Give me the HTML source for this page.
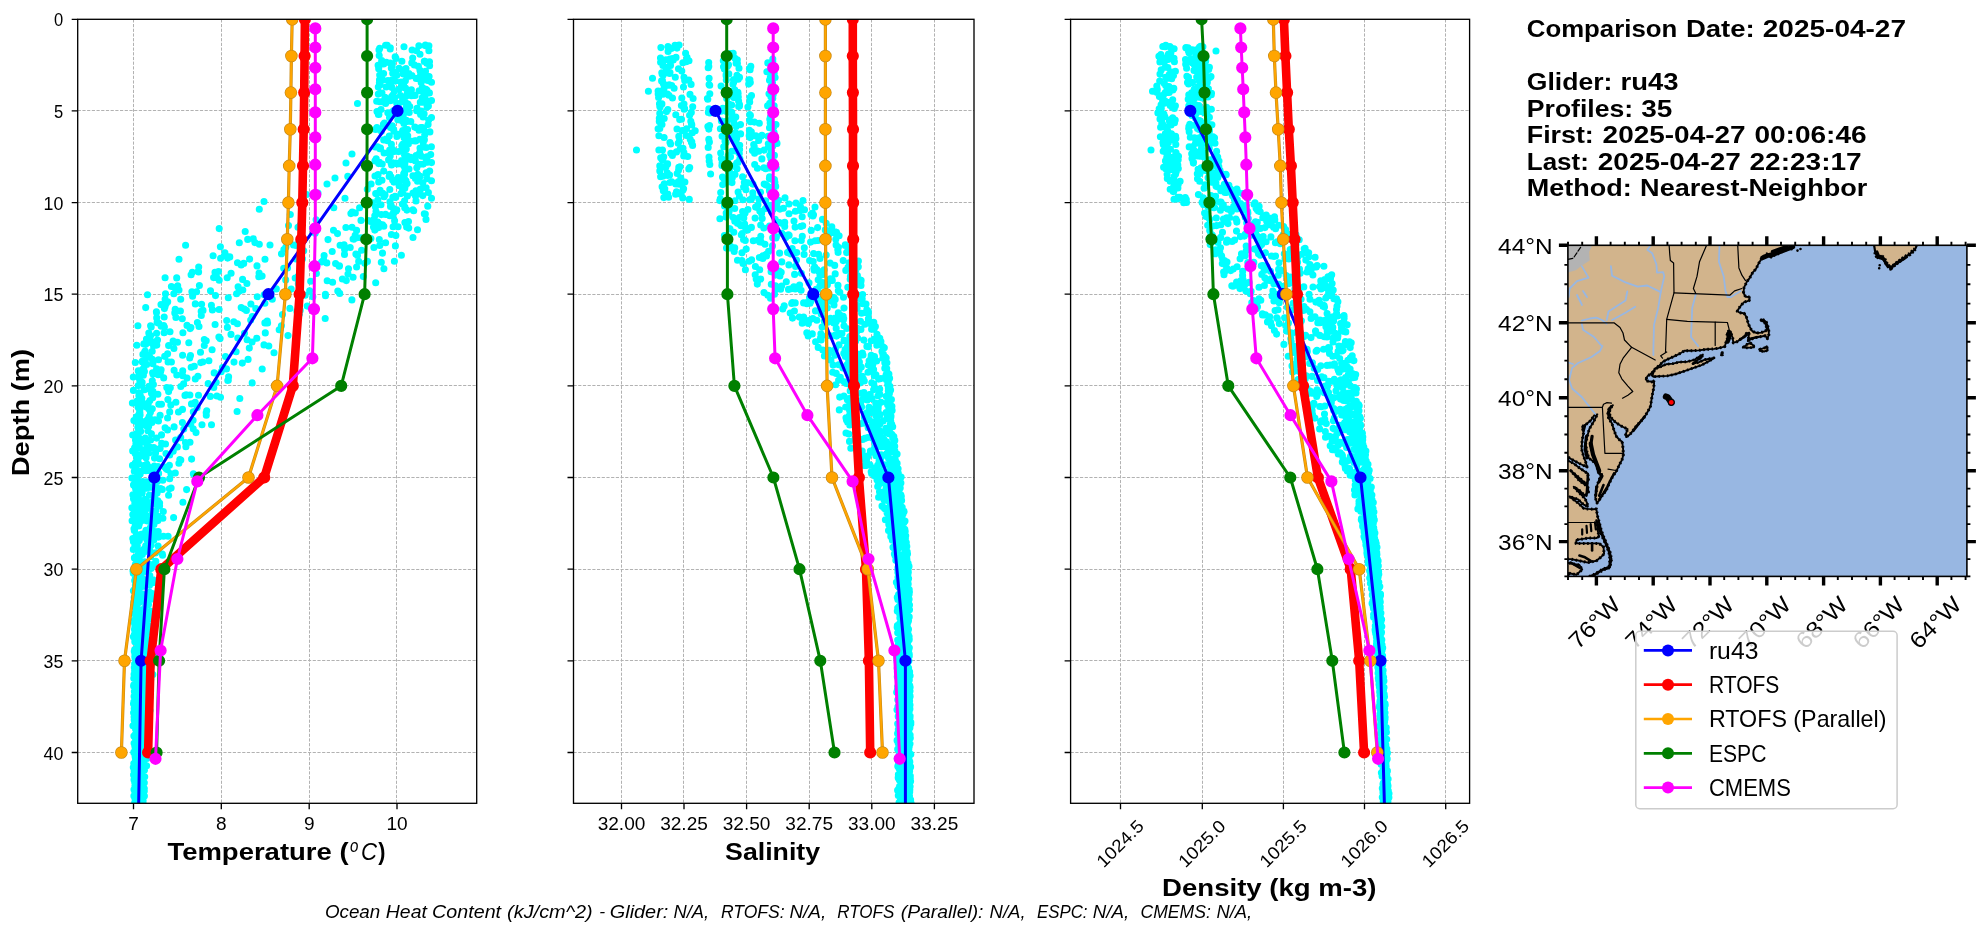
<!DOCTYPE html>
<html><head><meta charset="utf-8"><title>Glider comparison</title>
<style>html,body{margin:0;padding:0;background:#fff}svg{will-change:transform}body{width:1979px;height:934px;overflow:hidden}</style>
</head><body>
<svg width="1979" height="934" viewBox="0 0 1979 934" font-family='"Liberation Sans", sans-serif' style="display:block">
<rect width="1979" height="934" fill="#fff"/>
<defs>
<clipPath id="c0"><rect x="77.7" y="19.3" width="399" height="784"/></clipPath>
<clipPath id="c1"><rect x="573.5" y="19.3" width="400.5" height="784"/></clipPath>
<clipPath id="c2"><rect x="1070.6" y="19.3" width="399" height="784"/></clipPath>
</defs>
<path d="M133.5 19.3V803.3M221.5 19.3V803.3M309.5 19.3V803.3M396.5 19.3V803.3M77.7 110.5H476.7M77.7 202.5H476.7M77.7 294.5H476.7M77.7 385.5H476.7M77.7 477.5H476.7M77.7 569.5H476.7M77.7 660.5H476.7M77.7 752.5H476.7" stroke="#b2b2b2" stroke-width="1" stroke-dasharray="3.2 1.5" fill="none"/>
<g clip-path="url(#c0)">
<path d="M385.6 45.2h0M383.7 64h0M382.9 80h0M382 93.1h0M381 109.6h0M383.4 124.4h0M383.7 139.9h0M376.2 158.7h0M347.8 176.4h0M306.6 194.6h0M259.3 209.3h0M219.2 228.6h0M185.6 245.2h0M179 259.3h0M165.1 277.7h0M147.5 294.8h0M145.7 307.6h0M137.9 325.7h0M136.8 345.2h0M135.3 362.5h0M133.3 377.1h0M133.4 390.4h0M132.4 403.1h0M133.9 420.6h0M132.7 435.1h0M132.7 450.9h0M132.5 465.4h0M131.9 478.1h0M132.9 494.7h0M131.9 507.8h0M132.1 520.8h0M132.8 538.5h0M134.4 557.9h0M133.3 573.2h0M134.4 589.6h0M133.8 602.2h0M134.5 620.1h0M134.4 634.6h0M134.3 651.4h0M134.6 670.8h0M133.9 684.9h0M134.1 696.4h0M133.6 712.7h0M133 725.7h0M134.1 743.3h0M133.8 763.5h0M133.6 774.9h0M134.8 791.7h0M395.2 56.9h0M396.8 75.3h0M399 89.3h0M398.2 104.7h0M397.8 119.8h0M396.9 136.4h0M394.3 151.5h0M397.5 164h0M371.1 184h0M345 198.3h0M290.3 214.5h0M245.2 231.5h0M220.4 246.7h0M176.7 277.9h0M165.5 293.7h0M156.4 311.8h0M150.6 325.7h0M143.9 343.9h0M142.4 362.1h0M139.4 378.7h0M139.1 393.7h0M138.7 407.9h0M138.9 424.3h0M137.2 442.6h0M137.8 454.8h0M137.6 472.5h0M136.8 485h0M137 497.1h0M136.4 515h0M136.3 534.3h0M137.3 545.8h0M137.5 561.4h0M137.4 574.9h0M137.4 592.3h0M137.7 610h0M138.8 628.8h0M137.4 647.1h0M138.1 659h0M137.1 678.4h0M136.9 692.8h0M138.2 709.5h0M137.1 725h0M137.7 742.5h0M137.1 758.7h0M137.1 773.7h0M136.6 788.3h0M137.1 803.1h0M424.3 61.4h0M426.4 76.2h0M426.9 90h0M427.1 107.1h0M428.1 124.5h0M427.4 156.6h0M426.1 172.9h0M404.8 188.2h0M359.6 207.7h0M300.3 225.1h0M239.3 242.7h0M213.1 255.7h0M198.6 272h0M177.6 288.2h0M167.7 301.7h0M164.2 317h0M156.6 333.2h0M153.4 345.8h0M152.3 359.2h0M152.6 372.8h0M151 388.2h0M149.9 400.6h0M149.2 416.5h0M147.9 430.8h0M146.8 446.6h0M146.8 464h0M146.6 481.8h0M146.1 499.2h0M145.1 514h0M145.4 532.2h0M147.3 546h0M145.9 562.5h0M146.7 580.2h0M145.6 595h0M144.6 608h0M145 624.5h0M144.8 640h0M146.1 653.7h0M144.6 666.7h0M145.4 681.6h0M144.9 698.5h0M144.2 713.6h0M144 727.5h0M143.8 744.8h0M143.9 762.1h0M143.2 776h0M142.8 788.7h0M141.7 805.3h0M412.7 58h0M411.9 75.6h0M411.4 89.7h0M409.7 106.6h0M410.8 121.5h0M410.7 141h0M410.5 157.3h0M409 169h0M399.1 185.8h0M371.9 202.6h0M316.1 219.7h0M247.7 239.4h0M224.9 252.9h0M198.7 267h0M177.7 285.9h0M165.1 299.2h0M156.5 312.6h0M151.2 327.1h0M145.7 344.3h0M142.2 361.4h0M141 375.8h0M140.3 395.5h0M139.8 410.5h0M138.1 427.5h0M136.5 443.7h0M138.2 456.8h0M137.6 475.4h0M137.6 489.4h0M137.6 506.3h0M137.4 519.5h0M138.1 535.1h0M139 551.1h0M137.6 569.5h0M138.2 584.4h0M138.1 601.5h0M138.9 618.7h0M137.8 636h0M138.2 653.5h0M138.6 670.2h0M138.1 704.1h0M138.2 722.1h0M138.5 737.9h0M138.4 750.9h0M138.3 764.9h0M137.5 782.3h0M137.4 798.9h0M383.6 73.6h0M386.2 87h0M385.6 103.5h0M384.4 123h0M385.9 139h0M384.1 153h0M383.7 171.1h0M367.3 189.3h0M333.8 207.8h0M288.5 225.6h0M253.2 238.8h0M224.4 255.5h0M192.3 272.3h0M171.4 286.5h0M161 304.6h0M156.7 317.9h0M148.8 333.1h0M144.7 351.7h0M143.8 368.3h0M142.1 382.7h0M139.9 412.7h0M140.6 431.4h0M139.4 446.6h0M138.8 463.9h0M138.8 482.4h0M138.4 497.4h0M140.1 511.5h0M139.3 523.9h0M139.3 540.6h0M139.2 558.8h0M139.5 574h0M139.4 588.2h0M140.2 602h0M139.2 620.3h0M139.3 633.6h0M140 648.9h0M139.7 664.3h0M139.7 677.3h0M138.5 691.5h0M139.1 708.8h0M139.1 721.6h0M139.7 740.9h0M138 754.9h0M138.4 771.5h0M137.7 791.4h0M137.7 804.5h0M392.7 73.2h0M392 87.6h0M390.4 100.7h0M389.5 117.6h0M389.3 136.1h0M389.7 150.1h0M391.2 163.5h0M391 176.8h0M376.7 194h0M352.2 212h0M298 227.2h0M254.9 242.6h0M220.6 258.3h0M191.1 274.8h0M173.8 293.7h0M164.4 308.6h0M157.1 322.6h0M150.6 335.6h0M145.1 351h0M144.2 363.7h0M142.1 382.3h0M141.8 398.3h0M139.8 415.2h0M138.9 431.1h0M139.1 447.7h0M138 461.9h0M137.9 476h0M137.4 494.1h0M137 510.7h0M137.3 524.8h0M138 541.4h0M138.2 555h0M138 569.6h0M138.3 583h0M138 598.9h0M138.4 613.3h0M138.8 627.3h0M137.8 644h0M138.2 675.2h0M138.8 687.2h0M137.4 702.9h0M137 720.4h0M137.7 736.1h0M138.8 750.6h0M137.1 764.8h0M138 778.5h0M136.8 808.2h0M391.3 68h0M390.5 85.2h0M390.8 98.2h0M389.9 112.9h0M390.5 127.6h0M388.6 159.9h0M389.2 176.5h0M385 194.9h0M355.3 213h0M312.8 227.8h0M270 245h0M229.8 256.9h0M215 272.3h0M179 290.1h0M165 306.7h0M158.8 323.2h0M152.2 341.9h0M145.1 359h0M143.4 375.3h0M144.5 389.8h0M142.3 405.9h0M140.6 421.5h0M139.5 440.2h0M139.9 456.6h0M139.2 473.8h0M138.3 490.2h0M138.5 507.6h0M138.7 536.9h0M139.1 550.5h0M138.8 564.6h0M138.6 580.6h0M139.3 597.5h0M139 611.1h0M139.4 624.4h0M139 642.7h0M139.2 660.4h0M139 678.6h0M139.2 695.7h0M138.4 711.8h0M138.6 744.6h0M138.4 761.7h0M137.8 774.8h0M138.4 788.3h0M137.3 805.3h0M420 54.3h0M420.5 72h0M422.6 87.9h0M422.4 102.2h0M420.6 114.5h0M422.7 130h0M423.2 142.7h0M421.6 156.3h0M418.4 175.3h0M420.1 189.4h0M404.6 200.7h0M385.5 214.4h0M345.9 227.5h0M299 241.4h0M249.6 259.1h0M218.5 271.5h0M199.4 285.5h0M180.7 299.2h0M174.8 312.9h0M164.4 327.1h0M156.8 345.1h0M152.9 363.7h0M152.3 380.8h0M151.5 393.3h0M148.6 408.7h0M147.8 424.7h0M146.1 457.7h0M145.9 470.7h0M145.5 485.1h0M145.1 499.4h0M145 514.6h0M145.6 533.3h0M145.7 545.9h0M144.9 563.5h0M145.8 581.1h0M144.7 599.4h0M144.8 618.5h0M144.3 637.3h0M145 652.4h0M144.8 667h0M144.1 685.2h0M143.8 699.5h0M143.4 717.2h0M144.2 736.6h0M142.8 752.3h0M142.8 771.5h0M142.6 784.7h0M142.8 798.8h0M390.3 47.8h0M390.2 63.1h0M391.7 80h0M392.9 95h0M392.9 113.7h0M393.9 131.1h0M396 163.1h0M396.4 180.5h0M382.8 193.4h0M350.9 213.6h0M313.4 227.2h0M259.3 244.2h0M227.6 258.1h0M198.2 271.3h0M175.8 289.3h0M166.1 303.7h0M146.5 339h0M142.9 354.4h0M138.3 370.9h0M138.3 385.6h0M136.8 401.2h0M136.3 417.1h0M135.8 434.3h0M134.6 447.7h0M134.7 466.4h0M135 483.5h0M134.8 501.1h0M134.5 516.3h0M134.3 530.5h0M134.8 546.3h0M135.6 564h0M135.4 577.3h0M135.8 590.9h0M135.8 608.7h0M135.4 622.8h0M135.9 638.9h0M136.3 657.6h0M135.7 672.4h0M136.1 685.2h0M136.2 702.3h0M136.1 716.1h0M136.6 734.2h0M134.8 746h0M135.5 780h0M134.9 796.8h0M428.9 45.7h0M429.5 61.8h0M429.1 76.6h0M429.4 92.9h0M428.4 106.1h0M428.7 120.1h0M430.7 154.6h0M429.7 171h0M416 200.9h0M393 215.6h0M337.5 233.6h0M283.9 249.5h0M243.7 263.4h0M217 277.8h0M191.9 291.8h0M175.2 309.4h0M151.2 342.7h0M145.8 357.2h0M139.5 374h0M139.1 392.7h0M138 406.9h0M137.4 422.5h0M135.5 440h0M135.2 453.4h0M134.9 469.6h0M134.9 486.5h0M134.8 503.3h0M134.3 516.3h0M134.5 530.3h0M133.3 549.4h0M135.3 565.1h0M134.7 580.6h0M134.2 597.5h0M134.9 626.9h0M134.7 639h0M134.8 656.7h0M134.1 674.4h0M134.4 691.4h0M134.2 708.5h0M134.8 722.8h0M135.3 737.9h0M133.8 752.2h0M133.8 767.6h0M134.7 782.3h0M134.3 796.5h0M134.8 811h0M395.9 58.4h0M395.8 72h0M394.4 90.9h0M396.8 103.4h0M397.8 116.4h0M398.5 134.2h0M398.5 151.6h0M400.1 163.8h0M398.3 177.5h0M395.8 197.2h0M376 211.5h0M352 227.3h0M295.9 245.4h0M237.5 262.8h0M219.2 280.3h0M192.6 295.6h0M177 311h0M161.2 326.3h0M151.3 341.2h0M148.7 355.7h0M142.6 369.2h0M140.4 383.2h0M138.9 395.7h0M139.3 413.2h0M137.8 427.3h0M135.9 443.9h0M135.2 463.1h0M134.9 481.4h0M135.6 493.8h0M134.8 512.3h0M135 526.8h0M135.1 542.7h0M135.4 557.2h0M134.8 571.9h0M134.2 589.7h0M135.1 605h0M135.1 620.9h0M135.8 639.5h0M134.9 655h0M134.7 667.1h0M136 683.4h0M135.3 701.6h0M135.6 713.8h0M135.2 726.8h0M136.2 743.9h0M135.4 758.3h0M134.2 776.2h0M134.4 795.2h0M134.9 807.5h0M403.6 84.5h0M405.5 102.2h0M403.6 121h0M404.1 137.7h0M404.6 155h0M404.9 167.5h0M407.1 183.6h0M390 201.9h0M361 220.4h0M315.2 233.2h0M285.9 247h0M241.2 264.9h0M213.6 277.6h0M192.6 296.2h0M180.4 311h0M163.7 325.5h0M157.5 340h0M149.9 357.4h0M144.4 371.5h0M141.6 385.2h0M141.2 400.4h0M140.1 415h0M140 426.4h0M136.5 440.4h0M136.7 457.5h0M134.3 471.3h0M135.7 489.3h0M135.6 506h0M135.3 525.4h0M135.1 539.4h0M135.7 557.5h0M135.3 572.6h0M135.9 591.6h0M136.1 609h0M136.1 626.2h0M136.3 638.3h0M136.1 651.4h0M135.5 668.8h0M135.8 682.3h0M135.5 697.5h0M135.4 728.8h0M134.8 742.9h0M135.1 756.4h0M135.2 774.5h0M135.4 793.6h0M134.6 808.5h0M404 46.7h0M401.9 61.2h0M403.4 73.9h0M404.9 87.7h0M402.2 101.6h0M402 120.7h0M403.8 136.3h0M402.1 151.4h0M403.8 165.7h0M404.6 179h0M395.3 197.5h0M374.8 215.8h0M333.5 230.2h0M293.5 245h0M265 259.2h0M227.2 277.7h0M210.5 290.7h0M201.6 304.3h0M182.3 318.8h0M170 331.8h0M168.6 345.6h0M158.5 359.7h0M153 374.1h0M149.3 389.1h0M148.4 402.9h0M147.8 419.4h0M145.3 438.1h0M143.1 450.7h0M143.7 470.2h0M141.9 484.9h0M142 503.2h0M140.4 521.5h0M141.2 534.2h0M140.8 552.8h0M140.4 566h0M139.5 584.1h0M140.3 597.5h0M139.8 610.6h0M139.5 624.4h0M139.9 641.6h0M140.1 660.4h0M140 674.3h0M139.8 689.2h0M140.1 703.5h0M139 718.3h0M139.8 731.1h0M138.6 747.8h0M138.1 763.1h0M138.1 781.1h0M138.4 796.5h0M139 808.4h0M418.9 45.7h0M420.2 76.3h0M419.1 90.7h0M417 108.3h0M414.8 127.1h0M415.8 140.9h0M416.1 155.6h0M417.7 174.3h0M415.9 190.7h0M391.1 205.3h0M370.7 221.5h0M328 239.6h0M281.5 253.8h0M231.1 273.2h0M196.6 291.7h0M195.3 303.9h0M175.9 317.5h0M164.1 332.8h0M152.2 351.2h0M146.7 364.4h0M139.9 381.1h0M139.2 398.8h0M137.8 416.1h0M136.9 433.3h0M135.3 450.3h0M136.1 467.5h0M133.5 484.9h0M133.5 498.8h0M132.8 514.6h0M134 528.8h0M133.4 541.6h0M133 571h0M133.4 590.8h0M133.5 605.7h0M134.4 623.1h0M133.4 636.7h0M134.3 651.3h0M134.3 667.5h0M133.6 685.9h0M133.9 701.8h0M134.2 720.1h0M133.9 736.1h0M133.8 752.5h0M134.1 770.8h0M134 789.5h0M134.6 803.1h0M412.1 50h0M414.3 64.9h0M416.2 78.5h0M415 95.4h0M416.7 110.7h0M416.3 127.7h0M414.8 140.9h0M415.4 160.9h0M415.4 178.4h0M415.5 196h0M396.1 211.1h0M377.8 223.4h0M355.1 236.2h0M303.7 250.8h0M257 265.9h0M242.6 279.4h0M215.5 295.6h0M203 310.4h0M187 325.4h0M173.1 341.1h0M167.6 353.7h0M161.1 369.8h0M153.4 384.6h0M152.7 397.7h0M150.4 412.3h0M148.7 426.2h0M147.3 442.8h0M145.3 455.3h0M145.3 470.6h0M144 487.4h0M144 501.6h0M143.3 517.4h0M143.2 535h0M142.3 554.4h0M142.1 572.3h0M141.4 624h0M142 657.2h0M140.7 673.9h0M141.6 691.9h0M140.7 708.2h0M141 726h0M141.3 738.5h0M140.6 753.8h0M140.3 771.8h0M139.6 790.1h0M139.5 805.5h0M399.1 68.3h0M401.1 82h0M400.5 95.6h0M402 111.4h0M404.7 129.9h0M402.7 144.2h0M404.9 162.8h0M404.6 174.3h0M402.6 190h0M393.6 208.6h0M376.4 225.5h0M353.8 239h0M259.1 273h0M242.8 290h0M212.4 309.9h0M190.9 327.6h0M171.4 362h0M163.7 377.9h0M157.9 394.2h0M152.3 408.8h0M151.9 422.5h0M150.6 439.9h0M148.9 453.1h0M149.1 470.6h0M146.9 488.2h0M144.4 502h0M144.3 520.2h0M144.2 537h0M144.1 552.1h0M143.7 569.8h0M143.4 582.2h0M143 609.5h0M143.5 622.6h0M143 638.6h0M142.9 652.7h0M143.2 690.4h0M142.4 704.5h0M142.2 720.4h0M142.2 736.1h0M141.9 751.3h0M141.9 767.5h0M140.5 785.1h0M139.7 798.8h0M402.4 70.1h0M401.3 86.3h0M402.7 100.1h0M403.2 116.2h0M404.3 131.5h0M405.1 143.7h0M404.2 161.3h0M401.3 179.9h0M401 193.6h0M393.5 212.6h0M373.5 227h0M340.1 245.2h0M302.4 258.9h0M258.8 276.8h0M236.6 293.8h0M201.2 311.4h0M190.1 328.6h0M174.6 342h0M164.7 356.3h0M156.6 368.7h0M149 386.4h0M143.4 403.5h0M140.1 420h0M139 437.9h0M138.3 455.2h0M138.6 471.7h0M137.6 486.8h0M136.6 503.8h0M137.1 519.4h0M136.4 537.7h0M135.6 556.8h0M135 571.3h0M135.4 584.9h0M134.7 599.4h0M134.7 613.7h0M134.5 629.4h0M134.8 641.7h0M135.9 656.2h0M134.9 670.4h0M135.3 686.5h0M135.5 702.6h0M135.3 717h0M135.2 734.6h0M135.2 748.9h0M135.4 761.5h0M134.7 774.2h0M135.5 789.2h0M135.3 803.5h0M425.1 45.6h0M424.9 61.2h0M422.9 78.7h0M423.8 92.6h0M421.3 111.1h0M419 130.2h0M420 148.1h0M420 164.3h0M420.1 176.3h0M420.7 189h0M404.9 207.1h0M383.8 226.2h0M353.7 239.2h0M296 258.9h0M262.1 276.1h0M239.1 291.3h0M219.1 309.5h0M199 326.5h0M188.8 342.7h0M182.6 355.3h0M174.1 370.2h0M170.3 387.8h0M161.5 404.2h0M158.5 421h0M156.6 438.1h0M155.6 452.6h0M153.2 467.6h0M153.6 486.9h0M151.8 502.4h0M151.3 515.4h0M151 531.9h0M149.8 550.6h0M148.8 564h0M147.8 581.6h0M147.3 597.5h0M147.5 613.2h0M147.2 625.7h0M147.2 640.1h0M147.5 656.2h0M147.4 675h0M146.7 687.7h0M146 702.6h0M144.8 721.5h0M144.9 754.1h0M144.5 770h0M144.3 788.5h0M143.1 803.2h0M406 68.6h0M405.4 80.8h0M406.2 96h0M405.6 111.1h0M402.7 130.5h0M401.8 145.7h0M401.6 160.5h0M403.7 173.7h0M402.8 192.5h0M396.8 209.9h0M380.2 224.4h0M353.1 239h0M324.1 255.5h0M287.5 267.9h0M246.9 283.5h0M228.3 297.8h0M201.3 315.5h0M182.9 332.8h0M173.9 348.5h0M168.1 361.9h0M158.2 374.8h0M150.6 389.1h0M146.7 405.6h0M144.3 421.8h0M144.9 439.6h0M142.4 453.8h0M141.1 471.4h0M139.9 484.3h0M139.3 500.6h0M140.4 513.4h0M138.8 525.9h0M138.6 539.5h0M139.6 555.3h0M137.9 568.1h0M137.6 585.3h0M137.5 604.6h0M137.7 619.8h0M137.3 639.7h0M137.1 654.8h0M137.4 669h0M137.6 685.8h0M137 701.8h0M136.9 714.8h0M137.2 728.7h0M136.3 747.4h0M137.2 764h0M137.2 778.8h0M136.5 797.3h0M136.4 812.2h0M409.3 76.3h0M408.2 93.9h0M408.3 108.8h0M407.3 121.4h0M406 140.5h0M406.9 155.7h0M405.1 170.2h0M405.4 185.6h0M402.4 204h0M377.8 222.1h0M357 237.8h0M332.2 251.5h0M283.7 268.2h0M238.1 286.8h0M211.4 305.3h0M197.4 322.5h0M177.5 342.3h0M165.1 356.4h0M160.6 371.7h0M152.9 391.3h0M146.2 406.9h0M146.2 425.7h0M142.1 441.7h0M138.4 456.2h0M140.2 474h0M136.5 490h0M139.7 505h0M139.2 519.4h0M137.2 535.4h0M137.4 549.5h0M136.9 562.8h0M136.2 579.9h0M135.5 592.9h0M135.5 606.4h0M134.9 625.2h0M136.2 639.6h0M135 658.1h0M135.2 674.1h0M135.2 690.3h0M135.2 705.2h0M134.5 721.1h0M134.9 735.8h0M135.6 751.8h0M135.5 768.2h0M135.5 783.9h0M135.1 799.2h0M425.4 45.1h0M426.8 63.2h0M427.7 80.5h0M425.1 98.6h0M423.1 117h0M424.7 134.9h0M426.3 147.5h0M427.8 162.3h0M427 178.6h0M428.4 192.5h0M427.8 206.3h0M408.5 221.6h0M395.9 235.6h0M361.6 250.2h0M335.6 263.6h0M295.2 278h0M264.2 294.7h0M241.2 307.6h0M233.8 321.8h0M204.3 339.5h0M190.5 355.5h0M182.7 370.9h0M180.8 386.5h0M167.9 399.6h0M160.1 415.4h0M153.8 447.6h0M154.3 466.1h0M152.4 480.2h0M149.5 495h0M147.5 508.4h0M147.4 520.9h0M146.9 539.6h0M147 567.7h0M145.9 582.4h0M144.2 598.3h0M144.1 614.7h0M142.7 633.8h0M142.8 646.3h0M142.8 661.5h0M142.1 675.2h0M142.7 688.6h0M142.1 702.8h0M142.4 720.4h0M141.8 735.6h0M141.4 750.2h0M141 768h0M140.6 782.2h0M141.6 799.6h0M139.9 811.9h0M428.9 50.7h0M429.6 65.7h0M431.5 82.3h0M431.5 100.5h0M431.5 117.6h0M429.9 131.9h0M431.4 146.7h0M431.5 162.6h0M431.5 180.7h0M431.5 198.3h0M424.3 213.7h0M408.7 228.1h0M373.9 247.5h0M339.5 265.9h0M298.3 283.7h0M270.7 295.9h0M255.8 308.5h0M227.4 327.4h0M204.3 345.5h0M200.8 362.6h0M182.8 375.7h0M168.6 391.6h0M170.8 404.9h0M155 419.9h0M151.4 433.7h0M151.2 447.6h0M147.8 466h0M145.1 484h0M146 501h0M145.1 516.4h0M143.4 534h0M143.5 550.1h0M142.9 566.5h0M141.4 582.6h0M141.8 598.5h0M140.1 615.8h0M139.8 629h0M138.8 646.3h0M138.2 659.7h0M137.9 676h0M137.5 692.4h0M137.1 710h0M138.1 723.4h0M137.4 742.5h0M137.4 761.4h0M137.1 779.1h0M137 796.4h0M136.6 812.6h0M392.4 63.7h0M395.5 81.1h0M394.6 97.9h0M393.4 110.7h0M393.7 129.6h0M392.6 149.4h0M391.6 165h0M393.9 182.1h0M395 196.4h0M389.8 215.7h0M374.8 230.1h0M350.2 247.5h0M326.8 262.9h0M285.7 279.9h0M257.2 296.7h0M244.4 309.1h0M215.1 324.5h0M206.2 340.8h0M189.7 358h0M176.8 375h0M166.8 387.5h0M158.8 404.2h0M151.5 420.1h0M146.8 439.9h0M144.8 451.9h0M143.7 465.6h0M142.7 481.6h0M142.2 493h0M142.1 507.8h0M138.7 522.7h0M141 536.7h0M139.5 551.7h0M139.4 567.7h0M136.6 587h0M135.7 603.4h0M135.2 619.4h0M135.2 632.3h0M134.7 649.5h0M134.6 664h0M133.8 678.3h0M134.9 691.2h0M133.5 703.7h0M134.1 717h0M134.6 735.9h0M134.4 752h0M133.3 767.3h0M134 779.8h0M133.9 796h0M134 811.7h0M379.7 48.4h0M378.6 67.2h0M379.4 82.7h0M379.5 101.8h0M378.9 114.5h0M381.4 131.3h0M380.5 148.1h0M378.7 163.6h0M378.7 182h0M377.8 200.1h0M356.6 230.4h0M344.1 244.9h0M323.6 259.7h0M300.2 275.3h0M271 292.7h0M246.4 310.4h0M237.4 323.7h0M218.9 337.1h0M200.5 352.2h0M194.3 366.2h0M187 378.1h0M185 395.4h0M169.7 411.9h0M167.5 429.9h0M160.1 448.4h0M158 466.6h0M154.9 484.9h0M155 498h0M154.6 515.8h0M152.5 530.4h0M150.5 564.5h0M149.9 583h0M150.6 598.4h0M147.9 614.9h0M147.8 629.7h0M147.1 647.1h0M147.2 659.6h0M146.5 676.8h0M146.5 689.2h0M145.6 708h0M144.4 722.3h0M145 740.8h0M143.7 757.5h0M142.6 775h0M144.3 791.1h0M143.6 805.4h0M379 49.9h0M378.1 65.3h0M379.5 79.9h0M378.3 94.1h0M377 111.5h0M375.6 129.4h0M375.2 147h0M375 160.9h0M375 176h0M375.7 193.5h0M375.5 206.9h0M368.2 220.6h0M355.2 235.3h0M344.6 249.5h0M321.6 262h0M297.9 276.6h0M276.3 288.9h0M250.9 304h0M226.7 320.5h0M220.1 338.6h0M191.2 367.3h0M183.6 383.9h0M175.9 402.3h0M167.6 418h0M161.5 434.9h0M155.5 453.3h0M151.9 470.1h0M150 487.3h0M145 504.8h0M146.3 517.4h0M146 530.4h0M144.3 548.7h0M144.4 561.8h0M142.4 578.3h0M142.1 593.9h0M141.7 613.4h0M142.1 627.2h0M141.8 642.6h0M140.6 659.1h0M139.3 675.1h0M138.8 690.3h0M139.1 708.4h0M137.8 723.2h0M138.4 741h0M138.2 759.5h0M138.2 773h0M137.8 788.8h0M138 805.8h0M408.9 73.6h0M407.3 91.7h0M406.4 107.1h0M403.9 123.5h0M404.2 137.7h0M403.9 153.3h0M404.3 172.9h0M404.3 188h0M404.7 207.8h0M394.6 220.7h0M379.3 239.5h0M355.9 254.1h0M339.2 266.2h0M310.7 281.3h0M272.3 299.2h0M252.3 316.5h0M244.5 333.3h0M208.9 360.8h0M195.3 378.9h0M186.1 394.8h0M182.5 409.4h0M174.1 426.9h0M165.5 444h0M159.6 458.7h0M158.6 473.4h0M157 488.1h0M155.3 503.8h0M153.8 520.2h0M152.5 537.6h0M152.5 553.2h0M150.7 567h0M149.5 585.2h0M148.5 604.5h0M149.3 617.7h0M148.4 632h0M147.2 646.9h0M145.6 659.2h0M145.5 676.9h0M144.1 695.5h0M144.1 714h0M143.1 731h0M142.7 748.4h0M143.6 768.2h0M141.5 785.5h0M141.4 797.5h0M411.8 62.9h0M411.4 95.7h0M409.2 112.5h0M407.6 129.5h0M408.5 143.7h0M410.8 159.6h0M412.9 175.8h0M413 193.1h0M412.9 209.8h0M404.9 222.6h0M391.4 234.5h0M382.5 253.1h0M356.6 267h0M332.6 282.2h0M305.2 295.3h0M264.9 322.9h0M237.8 338.1h0M225.5 356.5h0M214.2 372.9h0M195.2 402.2h0M193.1 420.2h0M180.7 437.5h0M169.7 454.9h0M167.2 469.6h0M162.3 489.4h0M157.9 500.7h0M157.9 520.6h0M158.5 537.1h0M155.5 552.9h0M152.4 566h0M153 582.7h0M152.6 598.9h0M150.6 613h0M150.2 626.5h0M148.3 645.1h0M149.2 658.3h0M147.9 673.4h0M147.3 691h0M145.8 703.9h0M144.5 720.8h0M144.4 736.4h0M143 765.9h0M142.4 780.5h0M142.3 799.8h0M381.7 60.5h0M379.7 75h0M378.3 87h0M376.7 101.2h0M378.4 114.5h0M376.9 127.6h0M377.6 146.7h0M379.5 162.3h0M378.1 174.6h0M380.1 190.4h0M381 204.8h0M373.4 219.7h0M361 237.7h0M344.5 254.4h0M316.4 273.5h0M291.2 289.1h0M264.9 303.2h0M250.7 320h0M231 334.4h0M212.1 349.8h0M202.7 362h0M197.9 376.2h0M189.9 395h0M178.5 412h0M165.1 427.7h0M161.7 443.4h0M154.5 458.1h0M153 470.4h0M150.9 487.3h0M147.8 505.3h0M146.5 518.9h0M147.1 534.7h0M145.4 549.9h0M143.1 566.5h0M142.6 586.4h0M143.2 597.8h0M139.2 611.8h0M140.1 630.1h0M139.5 643.1h0M138.9 657.3h0M138.3 674.6h0M138.1 691.8h0M138 711.2h0M135.9 723.1h0M136.2 737.7h0M135.3 755h0M135.2 770.7h0M134.9 786h0M407.8 74.9h0M405.5 88h0M408 104.1h0M406.3 120.4h0M407.7 135.7h0M406.3 149.1h0M404.8 164h0M406 180.9h0M407.4 196.1h0M406.9 210.1h0M398.1 226.7h0M385.6 242.8h0M367.4 261.4h0M348 274.1h0M309.7 290.7h0M289.9 308.4h0M267.2 321.1h0M247.1 339.8h0M236.1 351.7h0M226.5 368.9h0M208.2 383.6h0M191.5 403.9h0M182.4 422.6h0M175.6 440h0M166 453.5h0M164.7 467h0M157.3 481.6h0M153.9 499.5h0M152.6 512.7h0M150.4 527.6h0M149.7 542.2h0M150.6 556.7h0M146.7 571.4h0M146.9 585h0M144.9 599.1h0M144.4 615.9h0M143.4 632.6h0M142.7 648.5h0M141.2 660.4h0M141 674.9h0M140.3 690.6h0M139.7 703.6h0M139.4 718.3h0M139.1 734h0M137.6 749.9h0M136.6 768.6h0M136 783.1h0M136.5 796.7h0M136 810.7h0M416.6 50.8h0M418.4 66.4h0M421.2 82.4h0M422.2 97.7h0M419.8 112.1h0M420.8 127.6h0M419.8 139.2h0M419.7 152.7h0M416.8 167.7h0M417.5 181.3h0M416.9 194.4h0M413.7 210.8h0M406.6 227.1h0M395.4 245.9h0M381.3 262.3h0M353.1 277.2h0M337.8 291.1h0M307.2 306.1h0M267.6 323h0M256.8 338.3h0M222.5 367.6h0M216.2 382.5h0M198.5 395.3h0M193.3 411.8h0M183.8 429.1h0M177.4 446.9h0M169.4 465.2h0M162.8 480.2h0M157.1 493h0M155.8 510.6h0M153.9 524.5h0M153.8 540.1h0M151.6 554h0M151 568.6h0M149.2 583.8h0M149.1 598.6h0M148.4 613.3h0M145.7 630.4h0M145.9 646.8h0M143.6 665h0M143.4 679.4h0M142.5 696.5h0M141.8 709.7h0M140.8 727.4h0M139.5 740.1h0M138.6 759.1h0M137.8 775.2h0M138 793.4h0M137.8 807h0M425.5 71.3h0M426 89.3h0M424.7 102.2h0M424.1 113.9h0M423.8 129.4h0M424.1 147.1h0M423.2 164.1h0M422.8 182.7h0M422.8 195.6h0M425.3 214.1h0M417.5 229.7h0M394.4 261.2h0M363.3 276.6h0M339.7 293.4h0M300.2 310.4h0M281.4 325.7h0M252.1 342h0M221.2 371.7h0M213.8 387.5h0M197.2 407.6h0M190.7 424.3h0M180.5 437.7h0M173.2 451.3h0M166 468.5h0M160.6 488.5h0M159.6 505.9h0M152.3 522.2h0M153 536.8h0M151.4 552.9h0M147.3 568h0M146.2 581.5h0M144.6 594.7h0M143.9 611h0M142.3 624h0M142.4 642.7h0M142.3 656.6h0M140 676.3h0M140.4 687.9h0M138.6 701.6h0M138.2 715.4h0M137.7 732.2h0M136.3 745.6h0M136.3 758.5h0M135.1 775.4h0M134.2 789.5h0M133.9 806.6h0M387.2 45.4h0M386.4 62.2h0M388 80.6h0M385 97.3h0M387.8 112.7h0M389.1 126.1h0M387.5 140.8h0M390.2 155.9h0M389.6 174.4h0M389.8 189.5h0M390.5 206.4h0M382.6 224.8h0M370.9 238.5h0M357.5 255.5h0M348.5 268.8h0M327.2 280.8h0M312.8 296.8h0M282.5 314.6h0M265.3 332.9h0M249.3 348.1h0M234 362.1h0M228.3 380.2h0M216.9 396h0M206.7 410.8h0M193.2 428.7h0M185.5 442.5h0M180.8 460h0M175.3 473h0M169.4 488.7h0M162.9 518.3h0M163.5 536.2h0M162.3 554h0M160 568.4h0M158.2 581.6h0M156.2 598.8h0M151.5 630.1h0M152.7 646.1h0M154.4 659.1h0M152.9 674.5h0M149.9 693.4h0M147.9 710h0M148.2 728.1h0M146.7 747.1h0M146.6 765.7h0M144.3 782.7h0M143.1 800.5h0M379.2 55.6h0M378.7 68.7h0M380.2 84.8h0M381.3 101.7h0M378.8 114.1h0M377.9 129.2h0M379.9 148.8h0M382.2 164h0M382 180.3h0M384.1 196.8h0M381.3 214.6h0M378.7 227.6h0M358.7 261.4h0M342.4 279h0M325.4 294.4h0M296.9 311.4h0M280 329.8h0M268.8 346h0M242.3 363.1h0M227.8 380.5h0M220.5 397.3h0M206.3 415.3h0M196 432.6h0M185.9 446.8h0M178.9 463.2h0M169.7 478.7h0M168.6 495.3h0M163.3 511.6h0M158.2 531.5h0M158.1 546h0M154.4 563.7h0M153.1 579.8h0M153.2 593.8h0M150.6 611.1h0M150.3 627.6h0M146.1 644.2h0M147.1 656.9h0M147.1 670.6h0M146.2 687.7h0M146 702.6h0M143.8 716.6h0M142.4 732.5h0M141.6 748.8h0M140.5 765.1h0M139.9 778.4h0M139.1 792.4h0M137.7 811.6h0M390.2 49h0M392.1 65.9h0M390.9 82.6h0M391.7 96.6h0M390.5 113.2h0M392.4 125.8h0M391.4 144.3h0M392 162.6h0M392.6 180h0M392.8 197.3h0M394.9 211h0M393.1 226.8h0M379.8 245.4h0M364.8 263.3h0M346.3 280.6h0M325.5 295.7h0M299.4 314h0M279.2 329.7h0M264 344.9h0M248.1 359.4h0M228.6 376.9h0M210.3 396.4h0M206.2 412.7h0M202 424.8h0M190 442.2h0M179.8 459.5h0M171 473.8h0M171.1 488.1h0M159.6 503.1h0M157.9 516.2h0M154.9 531.6h0M151 545.3h0M155.8 561.3h0M149.8 575.5h0M149.7 592.2h0M146.5 604.3h0M148.6 619.6h0M145.9 634.9h0M144.6 652.2h0M142.8 669.1h0M141.4 683.5h0M140.7 699.8h0M141.2 714.4h0M139.6 728.4h0M139.5 746.5h0M138.7 765.2h0M137 783.7h0M135.7 801h0M420 70.4h0M422.2 87.9h0M420.3 102.3h0M421.6 113.9h0M422.3 127.6h0M424.4 139.7h0M426.2 159h0M427.3 173.1h0M426.1 187.8h0M427.7 206h0M426 219.4h0M413 237.5h0M401.4 255.3h0M383.9 268.7h0M375.7 282.7h0M351.9 299.9h0M325.2 318.5h0M288 335.6h0M274 352.7h0M262.2 369h0M252.2 382.9h0M239.8 398.5h0M237.1 411.5h0M211.5 424.7h0M191.6 459.1h0M193.4 473.9h0M186.6 489.6h0M182.9 502.3h0M173.6 517.6h0M168.1 536.2h0M162.6 555.3h0M163 571.7h0M158.8 590.1h0M157.6 607.8h0M154.7 625.5h0M153.7 640.5h0M154.7 654.2h0M151.2 666.4h0M150.7 679.4h0M150.1 696.9h0M150 710.6h0M146.5 727.6h0M146.6 744.6h0M146.8 758.5h0M144.7 776.7h0M144.4 796.1h0M142.5 810.1h0M264 201.5h0M352 154h0M346 163h0M335 178h0M327 184h0M357.5 103.5h0M318 193h0" stroke="#00ffff" stroke-width="7.1" stroke-linecap="round" fill="none"/>
<path d="M397.5 110.9L268.4 294.2L154.3 477.5L141.1 660.8L138 844.1" stroke="#0000ff" stroke-width="3.0" fill="none" stroke-linejoin="round"/>
<path d="M397.5 110.9h0M268.4 294.2h0M154.3 477.5h0M141.1 660.8h0" stroke="#0000ff" stroke-width="12.2" stroke-linecap="round" fill="none"/>
<path d="M304.9 19.3L304.6 56L304.2 92.6L303.7 129.3L303 165.9L302.3 202.6L301.3 239.3L299.6 294.2L292.8 385.9L264.2 477.5L161.3 569.2L150.6 660.8L148.1 752.5" stroke="#ff0000" stroke-width="8.6" fill="none" stroke-linejoin="round"/>
<path d="M304.9 19.3h0M304.6 56h0M304.2 92.6h0M303.7 129.3h0M303 165.9h0M302.3 202.6h0M301.3 239.3h0M299.6 294.2h0M292.8 385.9h0M264.2 477.5h0M161.3 569.2h0M150.6 660.8h0M148.1 752.5h0" stroke="#ff0000" stroke-width="12.2" stroke-linecap="round" fill="none"/>
<path d="M292.2 19.3L291.4 56L290.9 92.6L290.3 129.3L289.2 165.9L288.4 202.6L287.3 239.3L285.4 294.2L277.1 385.9L248.5 477.5L136.4 569.2L124.5 660.8L121.4 752.5" stroke="#c98a14" stroke-width="3.2" fill="none" stroke-linejoin="round"/>
<path d="M292.2 19.3L291.4 56L290.9 92.6L290.3 129.3L289.2 165.9L288.4 202.6L287.3 239.3L285.4 294.2L277.1 385.9L248.5 477.5L136.4 569.2L124.5 660.8L121.4 752.5" stroke="#ffa500" stroke-width="2" fill="none" stroke-linejoin="round"/>
<path d="M292.2 19.3h0M291.4 56h0M290.9 92.6h0M290.3 129.3h0M289.2 165.9h0M288.4 202.6h0M287.3 239.3h0M285.4 294.2h0M277.1 385.9h0M248.5 477.5h0M136.4 569.2h0M124.5 660.8h0M121.4 752.5h0" stroke="#c98a14" stroke-width="12.6" stroke-linecap="round" fill="none"/>
<path d="M292.2 19.3h0M291.4 56h0M290.9 92.6h0M290.3 129.3h0M289.2 165.9h0M288.4 202.6h0M287.3 239.3h0M285.4 294.2h0M277.1 385.9h0M248.5 477.5h0M136.4 569.2h0M124.5 660.8h0M121.4 752.5h0" stroke="#ffa500" stroke-width="11.2" stroke-linecap="round" fill="none"/>
<path d="M367.1 19.3L367.1 56L367.1 92.6L367.1 129.3L367 165.9L366.7 202.6L366.3 239.3L364.6 294.2L341.2 385.9L199 477.5L164.4 569.2L159.1 660.8L156.6 752.5" stroke="#008000" stroke-width="3.0" fill="none" stroke-linejoin="round"/>
<path d="M367.1 19.3h0M367.1 56h0M367.1 92.6h0M367.1 129.3h0M367 165.9h0M366.7 202.6h0M366.3 239.3h0M364.6 294.2h0M341.2 385.9h0M199 477.5h0M164.4 569.2h0M159.1 660.8h0M156.6 752.5h0" stroke="#008000" stroke-width="12.2" stroke-linecap="round" fill="none"/>
<path d="M315.3 28.4L315.3 47.5L315.3 67.8L315.3 89.3L315.3 112.4L315.3 137.4L315.3 164.7L315.3 194.8L315.3 228.4L314.5 266.2L314 309.1L312.4 358.3L257.4 415.2L197.3 481.4L177.4 559L160.6 650.5L155.5 758.8" stroke="#ff00ff" stroke-width="3.0" fill="none" stroke-linejoin="round"/>
<path d="M315.3 28.4h0M315.3 47.5h0M315.3 67.8h0M315.3 89.3h0M315.3 112.4h0M315.3 137.4h0M315.3 164.7h0M315.3 194.8h0M315.3 228.4h0M314.5 266.2h0M314 309.1h0M312.4 358.3h0M257.4 415.2h0M197.3 481.4h0M177.4 559h0M160.6 650.5h0M155.5 758.8h0" stroke="#ff00ff" stroke-width="12.2" stroke-linecap="round" fill="none"/>
</g>
<rect x="77.7" y="19.3" width="399" height="784" fill="none" stroke="#000" stroke-width="1.33"/>
<path d="M133.5 803.3v6M221.3 803.3v6M309.2 803.3v6M397 803.3v6M77.7 19.3h-6M77.7 110.9h-6M77.7 202.6h-6M77.7 294.2h-6M77.7 385.9h-6M77.7 477.5h-6M77.7 569.2h-6M77.7 660.8h-6M77.7 752.5h-6" stroke="#000" stroke-width="1.33" fill="none"/>
<text x="133.5" y="829.8" font-size="17.6" text-anchor="middle" textLength="10.6" lengthAdjust="spacingAndGlyphs">7</text>
<text x="221.3" y="829.8" font-size="17.6" text-anchor="middle" textLength="10.6" lengthAdjust="spacingAndGlyphs">8</text>
<text x="309.2" y="829.8" font-size="17.6" text-anchor="middle" textLength="10.6" lengthAdjust="spacingAndGlyphs">9</text>
<text x="397" y="829.8" font-size="17.6" text-anchor="middle" textLength="21.2" lengthAdjust="spacingAndGlyphs">10</text>
<text x="63.3" y="26.3" font-size="17.6" text-anchor="end" textLength="9.2" lengthAdjust="spacingAndGlyphs">0</text>
<text x="63.3" y="117.9" font-size="17.6" text-anchor="end" textLength="9.2" lengthAdjust="spacingAndGlyphs">5</text>
<text x="63.3" y="209.6" font-size="17.6" text-anchor="end" textLength="19.8" lengthAdjust="spacingAndGlyphs">10</text>
<text x="63.3" y="301.2" font-size="17.6" text-anchor="end" textLength="19.8" lengthAdjust="spacingAndGlyphs">15</text>
<text x="63.3" y="392.9" font-size="17.6" text-anchor="end" textLength="19.8" lengthAdjust="spacingAndGlyphs">20</text>
<text x="63.3" y="484.5" font-size="17.6" text-anchor="end" textLength="19.8" lengthAdjust="spacingAndGlyphs">25</text>
<text x="63.3" y="576.2" font-size="17.6" text-anchor="end" textLength="19.8" lengthAdjust="spacingAndGlyphs">30</text>
<text x="63.3" y="667.8" font-size="17.6" text-anchor="end" textLength="19.8" lengthAdjust="spacingAndGlyphs">35</text>
<text x="63.3" y="759.5" font-size="17.6" text-anchor="end" textLength="19.8" lengthAdjust="spacingAndGlyphs">40</text>
<path d="M621.5 19.3V803.3M683.5 19.3V803.3M746.5 19.3V803.3M809.5 19.3V803.3M871.5 19.3V803.3M934.5 19.3V803.3M573.5 110.5H974M573.5 202.5H974M573.5 294.5H974M573.5 385.5H974M573.5 477.5H974M573.5 569.5H974M573.5 660.5H974M573.5 752.5H974" stroke="#b2b2b2" stroke-width="1" stroke-dasharray="3.2 1.5" fill="none"/>
<g clip-path="url(#c1)">
<path d="M668.1 51.4h0M670.5 65.4h0M663.3 83.4h0M663.2 94.3h0M659.8 113.4h0M658.1 128.8h0M670 142.6h0M660.7 157.8h0M660.6 176.8h0M664.8 188.8h0M679.1 45.1h0M669.9 61.3h0M669.6 73.5h0M658.1 91h0M684.1 109.2h0M659.3 121.4h0M679.3 141h0M659.8 170.9h0M662.1 186.8h0M668 46.5h0M662.9 65.4h0M661.6 80.9h0M658.6 97.5h0M666.5 111.6h0M659.8 128.5h0M670.6 144h0M661.9 159.3h0M669.6 175h0M663.3 190.8h0M660.5 58h0M670 72.6h0M671.7 85.5h0M659.5 103.9h0M664.2 118.5h0M658.9 135.8h0M658.9 150h0M661.6 167.2h0M664.3 183.8h0M666 59.7h0M675.3 77.2h0M658.2 94h0M667.8 109.6h0M662 124.5h0M678.2 143.2h0M662.9 159.9h0M667.7 175.5h0M681.2 194.5h0M671.3 48.5h0M667.3 67.3h0M669.2 84.7h0M661.9 103.9h0M681.5 119.2h0M678.8 136.4h0M670.8 153.3h0M678.8 167.2h0M671.7 181.8h0M668.6 197.3h0M660.9 47.6h0M672.4 58.5h0M663.2 75h0M663.9 88.7h0M681.4 105.6h0M679.7 119.6h0M692.4 132.7h0M662.5 150.1h0M667.6 163.9h0M662.8 176.2h0M667.8 194.1h0M669.7 59.1h0M662.1 74h0M664.1 88.1h0M660.1 107h0M659.3 118.3h0M686.3 135.5h0M676.5 151.9h0M666.1 166.4h0M684.9 182h0M675.6 194.2h0M689 60.8h0M684 77.3h0M667.5 94h0M692.7 106.8h0M660.6 123.3h0M664.1 137.5h0M687.7 156.5h0M688.8 168.9h0M669.9 182.5h0M663.8 197.6h0M660.6 62.3h0M688.8 80.1h0M668.9 95.3h0M677 129h0M692.6 145.4h0M659.8 165.9h0M680.8 178.1h0M676.5 191.7h0M673.3 59.9h0M661.8 72.7h0M674.1 88.3h0M659.8 106.4h0M691.5 123.9h0M672.4 155.4h0M678.6 169.9h0M679.2 184.3h0M689.3 199.4h0M677 48.1h0M686.2 61.7h0M662.4 80.2h0M693.1 98.5h0M675.8 114.8h0M682.3 130.6h0M691.4 142.3h0M663.7 156.8h0M667.2 172.8h0M683 190.1h0M687 57.4h0M681.8 71.1h0M683.5 87h0M684 104h0M690.8 121.3h0M690.2 139.2h0M683.9 152.6h0M689.7 167.6h0M675.8 184h0M682.7 197.9h0M685.6 53.2h0M678.5 68.8h0M691.1 84.4h0M672.5 98h0M689.6 115.3h0M695.2 130.7h0M680.3 148.7h0M664.1 167.1h0M678.2 181.8h0M676 57.4h0M664.8 72.4h0M668.4 85.3h0M681.8 98h0M691.3 112.4h0M686.5 128.8h0M683 148.3h0M680 166.8h0M681.3 183.6h0M675 45.3h0M682.9 62.8h0M684.7 80.5h0M690 94.4h0M684.6 108.6h0M691.8 124.9h0M691.8 141.8h0M683.7 156h0M677.2 173.5h0M683.6 188.8h0M708.2 67.8h0M709.1 84.6h0M707.4 98.6h0M709.8 112.9h0M709.6 125.6h0M708.8 139.4h0M709 157h0M710.6 174h0M708.7 62.5h0M709.1 78.2h0M709.8 93.7h0M708.9 108.8h0M707.9 126.6h0M709.4 142h0M709.2 161h0M708.8 66.4h0M709.7 85.2h0M707.8 99.3h0M708.4 112.5h0M708.8 129.1h0M708.2 147.4h0M709.8 164.5h0M726.7 56.2h0M726.1 74.8h0M724.9 91h0M722.8 108.4h0M727 121.6h0M728.3 134.6h0M720.7 153.1h0M727.8 167.9h0M722.7 184.6h0M719.8 200.6h0M723.3 60.7h0M726.1 75.7h0M724.3 92.8h0M726.6 111.5h0M727.8 128.5h0M723.7 146.7h0M727.7 159.4h0M728.2 177.9h0M720.7 192.5h0M730.5 53.5h0M724.4 69.1h0M721.1 86.1h0M728.8 104h0M721.4 121h0M722.1 136.2h0M731.9 151.2h0M721.9 165.5h0M727.4 182.1h0M720.3 198.8h0M725.3 65.2h0M733.7 97.6h0M721 111.3h0M720.4 128.8h0M739.7 145.2h0M722.1 163h0M732 182.6h0M749.7 199.7h0M723.5 66.8h0M726.3 80h0M726.7 98.4h0M729.8 112.4h0M722.8 128.6h0M734.9 141.9h0M721.4 158.6h0M722.5 177h0M738.1 192h0M736.1 63.3h0M738.2 79.2h0M732.1 91.2h0M739.5 106.1h0M726.1 121.4h0M736.6 138.5h0M730.5 156.7h0M730.1 172.8h0M743.6 187.1h0M735 200.7h0M727.3 66.4h0M733.6 82.5h0M729.4 95.6h0M724.7 110.2h0M740.5 124.6h0M734.4 136.8h0M735.8 151h0M732.7 166.3h0M723.4 178.1h0M739.4 196h0M737.3 59.8h0M728.8 73.9h0M738.1 93.5h0M731.7 105.1h0M734 123.5h0M725 141.2h0M728.1 155.8h0M728.5 172.3h0M745.3 186.4h0M729.3 200.6h0M735 58.3h0M737.8 76.7h0M727.4 107.8h0M725.1 124.9h0M726 142.4h0M727.6 159.5h0M735 174.4h0M745.9 189.8h0M728.5 64.8h0M733.5 79.7h0M738.3 97.1h0M731.8 112.3h0M736.2 126.4h0M737.1 144.2h0M739.9 158.8h0M732.4 177.4h0M753 196.3h0M736.7 63.2h0M737 75.2h0M734.7 89.7h0M738.7 106.4h0M731.6 118.4h0M730 134.1h0M739.6 149.5h0M737.9 162.4h0M744.3 182.2h0M742.8 199.7h0M733.2 53.2h0M739 68.3h0M732.9 84.2h0M738.6 101.1h0M735.8 117.1h0M740.6 133.9h0M739.3 153.6h0M737.1 168.8h0M747.8 182.7h0M751.6 198.5h0M737.4 63.4h0M739.5 77.4h0M737.9 92.2h0M739.5 104.5h0M733.9 120h0M735.5 132.8h0M738.9 145.3h0M736.7 163h0M742.6 176.8h0M752.8 192.8h0M754.4 122.1h0M755.9 135.8h0M752.4 150.6h0M757.4 168.2h0M752.9 184.1h0M751.1 199.5h0M753.3 135.8h0M757 150.7h0M754.7 164.5h0M764.2 184h0M758.9 199.1h0M759.3 123.2h0M758.7 140.5h0M761.9 158.9h0M760.6 192.3h0M761.9 135.2h0M758.8 151.2h0M765.7 168.7h0M765.2 184.6h0M761.1 136.2h0M764.2 150.1h0M763.9 167.7h0M766.7 185.2h0M765.7 200.7h0M750.1 69.8h0M748.7 84.1h0M749.7 102h0M750.5 121.7h0M750.1 137.6h0M754.6 153.3h0M749.4 68.8h0M749.9 79.9h0M747.9 107h0M749.5 120.5h0M749.2 135.7h0M753.9 149.8h0M750.3 67.6h0M750.3 82.5h0M749.9 97.8h0M750.4 115.4h0M751.3 131.7h0M753.7 144.5h0M750.8 66.4h0M748.8 79.8h0M751.5 95.6h0M749.7 114.6h0M749.4 130.4h0M754.2 146.4h0M766.9 71.8h0M771.2 86h0M769.7 103.4h0M769.8 119.2h0M769.3 136.3h0M769.8 155.3h0M769.8 168h0M771.2 187.2h0M777 202.9h0M767.8 62.9h0M769.5 80.3h0M770.9 96.8h0M769.5 127.8h0M768.3 143.8h0M770.9 158.7h0M769.6 176.7h0M769.4 190.7h0M772.1 74.1h0M767.6 105.8h0M770.2 122.9h0M768 136.2h0M771.4 151.7h0M776.2 168.1h0M775.7 186.4h0M778.5 200.3h0M771.7 68.1h0M772.5 82.5h0M772.8 98.2h0M770.4 117.1h0M774 132.4h0M768.5 146.8h0M770.1 164.7h0M769.4 178.6h0M773.2 194.6h0M772.8 59h0M770.3 77.6h0M769 93.7h0M774.5 110.1h0M773.8 126.7h0M772.8 146h0M773 161.9h0M773.7 180.9h0M776 195h0M772.8 61.6h0M775.1 77.6h0M773.2 94.6h0M772.4 107.5h0M771.7 127.4h0M777 143.4h0M774 162.2h0M774.4 179.6h0M775.1 194.2h0M774.2 73.6h0M775.8 89h0M774.1 105.9h0M776 124.5h0M776.2 141.9h0M774.4 155.4h0M776.2 168.2h0M774.9 182.4h0M785 197.9h0M728 209h0M737.4 223.3h0M743.5 239.5h0M762.9 255.7h0M779.4 271.1h0M797.3 287h0M803.6 302.9h0M812.8 318.6h0M836.5 336.1h0M847.4 355.7h0M855.4 370.5h0M857.1 384.6h0M863.3 398.7h0M866 413.2h0M868.2 427.7h0M874.7 447.2h0M879.1 461h0M887.3 478h0M887.4 490.5h0M893.7 503.8h0M895.5 517.3h0M896.3 532.7h0M898.2 545.8h0M900.4 563.7h0M902.2 576.1h0M899.8 595h0M899.5 607.5h0M899.2 624.8h0M900.7 637.2h0M899.5 650.7h0M898.6 663.9h0M897.3 676.8h0M898.8 693.4h0M898.6 711.4h0M900 728.9h0M898.8 746.8h0M898.5 762.6h0M899.6 775h0M898.5 789h0M899.1 802.6h0M733.3 217.5h0M729.5 228.9h0M726.5 248.1h0M737.5 260.3h0M756.2 279h0M764 292.6h0M784.2 305.9h0M807.5 321.1h0M822.2 335.8h0M829.2 350.3h0M842.8 367.4h0M851.1 386.4h0M851.7 398.1h0M846 417.7h0M848.8 434h0M857 449h0M865.8 461.5h0M879.1 477h0M884.8 494.4h0M890.7 511.3h0M891.8 526.4h0M896.4 545.3h0M898.7 560.9h0M899.9 574.6h0M900.9 588.1h0M900 605.9h0M899.5 623.8h0M899.8 640.6h0M900.2 653.5h0M899.8 668.4h0M899.2 684.2h0M900.2 699.2h0M899.5 714.8h0M898.8 728.5h0M899.6 744.1h0M900.5 758.3h0M898.4 774.6h0M897.6 790.2h0M899.2 806.5h0M726.1 217.1h0M724.4 235.5h0M729.6 248h0M741.9 260.6h0M758 280.5h0M767.9 295.2h0M782.8 308.9h0M802.2 323.2h0M815.6 341.8h0M824.4 356h0M836.2 373.4h0M845.7 407h0M855.3 425.3h0M858.8 438.6h0M860.4 458.2h0M884.6 483.3h0M889.5 502.1h0M891 520h0M895 531.9h0M898.6 545.4h0M899.4 561.1h0M900.4 575.1h0M901.7 593.9h0M901.8 610.1h0M902.8 628h0M902.2 645.1h0M901.8 662.5h0M901.5 680.3h0M901.4 695.4h0M899.5 708.9h0M900.3 727.2h0M899.5 742.1h0M898.3 759.3h0M899 776.9h0M899.8 789.1h0M900.7 803.2h0M724.5 205.9h0M719.9 218.7h0M726.6 236.1h0M742 252.9h0M759.7 269.7h0M775.5 285.7h0M806.9 303.7h0M824.3 321.3h0M841.9 333.5h0M851.2 348.5h0M850.3 365h0M859.1 378.4h0M861.1 393.4h0M861.6 407h0M864.7 422h0M867.8 437.5h0M875.9 455.8h0M880.2 471.1h0M889.2 488.3h0M893.3 507.1h0M895.6 519h0M898.4 536.5h0M901.1 555.1h0M903.3 572.3h0M903 590.9h0M902.6 605h0M903.3 632.7h0M902.2 648.1h0M902.7 665.5h0M902 677.7h0M902 696.8h0M901.7 709.1h0M903 726.5h0M901.8 741.5h0M901.2 756.7h0M899.4 790.6h0M901.1 805.3h0M734.7 208.5h0M739.6 224.3h0M757.7 240.2h0M766.5 255.9h0M781.2 272.2h0M799.6 285h0M809.5 297.5h0M815.5 310.9h0M836.2 328.4h0M844.4 340.7h0M856.9 356.3h0M862.2 376.4h0M864 392.6h0M869 407.2h0M869.3 420.1h0M875.4 436.3h0M881.3 454.7h0M886.1 471.9h0M890.4 487.5h0M895.3 505.5h0M897.2 521.2h0M901 556.3h0M904.1 573h0M902 587.7h0M900.7 602.6h0M903.8 621.1h0M902.6 633.7h0M901.5 648.2h0M900.4 663.1h0M900 679.9h0M901.7 696.4h0M901.4 713.5h0M899.2 725.9h0M901.3 744.8h0M900.8 759h0M900.8 773.2h0M899.3 790.6h0M899.1 810.2h0M729 212h0M741 225.8h0M760.4 239.9h0M759.4 257.5h0M771.1 271.8h0M791.3 288.8h0M810 303.2h0M825.6 318.7h0M839.9 333.5h0M847.2 347h0M859.4 362.1h0M862.1 379.1h0M865.6 396.1h0M869.9 412.8h0M871.2 428.3h0M876.2 442.8h0M880.6 459.8h0M890 476.1h0M892.3 495h0M894.5 507.5h0M896.5 526.1h0M896.5 540.9h0M900.1 558.3h0M901 572.8h0M899 587.3h0M901.1 601.9h0M899.9 617.9h0M898.5 631.9h0M898.5 645.3h0M896.9 658h0M897.4 672h0M898.2 689.5h0M898.2 707.5h0M900.3 726.2h0M898.2 743.3h0M899.2 759.9h0M898.4 776.3h0M899.5 793.6h0M897.8 810.7h0M726.2 213.1h0M729.9 228.9h0M730.6 246.3h0M743 263.5h0M760.7 279h0M774.5 294.3h0M794.4 311h0M808.4 323.5h0M821.1 339.9h0M827.9 354.6h0M832.7 372.3h0M835.6 384.7h0M839.7 397.1h0M856 432.8h0M850.8 448.3h0M864 465.5h0M877 479.8h0M878.6 497.3h0M887.1 513.1h0M892.1 530.4h0M893.8 547.5h0M899 562.6h0M899.8 579.1h0M901.3 591.4h0M899.7 608.7h0M900.5 623.2h0M897.7 640h0M898.2 652.8h0M897.2 668.2h0M897.6 686.8h0M899.4 703.4h0M898.5 715.9h0M900.7 731.9h0M901.7 748h0M901.4 761.5h0M902.6 777.7h0M902.8 798.2h0M745.1 212.9h0M745 226.9h0M745.3 240.5h0M762.8 258.4h0M778.6 273.6h0M780.6 289.2h0M792.1 302.7h0M816.8 320.2h0M834.8 335.3h0M849.6 349.2h0M861.3 367.1h0M864.3 381h0M870.5 397.3h0M873.3 408.8h0M872.2 425.4h0M879.1 442.6h0M880.1 457.8h0M886.5 475.8h0M889.2 491.2h0M892.8 510.6h0M896.5 523.6h0M898.5 544h0M902.1 560.8h0M904 577.1h0M904.6 592.6h0M903.5 610.5h0M903.4 623.9h0M903 640.4h0M903.6 657.3h0M902.2 672.3h0M901.1 705.2h0M901.7 721.9h0M901.3 738.3h0M902.3 757h0M901.8 773.5h0M899.4 791.2h0M726.4 215.3h0M733.8 232.2h0M734.7 247.9h0M749.1 261.2h0M755.2 274.8h0M775.5 289.5h0M792.5 318.1h0M812.3 333.9h0M822.8 350h0M833.1 365h0M838.6 380.2h0M843.9 396h0M839.3 409.9h0M847.7 422.3h0M855.1 438.3h0M861.7 457.1h0M871.2 471.7h0M878.5 485.3h0M884 499.8h0M888.3 514.3h0M888.5 530.6h0M893 547.2h0M895.8 560.2h0M898 577.2h0M898.6 594.5h0M897.7 608h0M898.3 626.5h0M898.4 639.9h0M898 657h0M899.3 672.1h0M898.2 686.9h0M899.6 701.1h0M898.9 716.1h0M898.3 729.5h0M899.2 745.9h0M898.6 762.4h0M898.3 778h0M898.3 795.6h0M899 810.4h0M728 208.4h0M734.8 221.3h0M741.3 234.7h0M734.2 251.5h0M745.4 269.7h0M757.3 284.1h0M770.5 298.3h0M790.2 313.1h0M806.8 332.7h0M818.2 347.4h0M830.9 360.2h0M840.3 377.2h0M851.5 391.3h0M847.6 406.6h0M846.5 419.9h0M856.7 439.5h0M866.1 456.2h0M874.5 475.7h0M879.5 491.7h0M882 506h0M888.8 524.4h0M892.1 538h0M896.3 554.6h0M897.9 572.6h0M897.9 586.1h0M897.7 598.5h0M897.4 625.6h0M898.6 643.2h0M898.6 658h0M897.8 673h0M897.9 691h0M899 707.9h0M897.7 723.8h0M899.2 741.5h0M899.1 756.7h0M899 774.8h0M899 789.8h0M898.8 804.6h0M760.4 211.1h0M760.7 225h0M772.7 237.8h0M766.3 254.4h0M773.1 265.9h0M781.6 286h0M795.2 302.9h0M809.3 320.2h0M820.6 337.7h0M834.9 355.3h0M842.9 368h0M844.2 381.8h0M849.1 398.6h0M853.8 411.8h0M857.8 423.9h0M862.7 439.4h0M866.7 459.1h0M882 476h0M882.9 492h0M883.4 507.3h0M885.4 519.8h0M890.8 536.5h0M895 555.5h0M897.8 570h0M897.2 583.6h0M898.3 599.5h0M897.3 611h0M897.2 627.3h0M898.7 642.7h0M896.9 657h0M899 673.9h0M898.9 688h0M900.3 720.6h0M898.1 734h0M897.7 749.3h0M897.8 766.2h0M899.4 780h0M900 796.5h0M899.3 810.6h0M742.6 211.5h0M744.6 224h0M753.3 240.8h0M751.6 259.9h0M775.3 275.1h0M795.2 288.9h0M806.6 302.6h0M825.5 319h0M830.9 336h0M843.8 353.4h0M845.7 368.6h0M846.3 383.5h0M847.4 399.7h0M849.2 415.7h0M846 433h0M857.1 451.3h0M866.4 465.4h0M877.5 480.4h0M880.7 493h0M885.2 509h0M892.4 540.2h0M894.4 554.1h0M898.7 567.1h0M898.9 584.8h0M897.9 599.4h0M899.2 612.9h0M897.7 632.8h0M897.7 649.2h0M897.2 661.7h0M898.8 681.5h0M897.8 699.7h0M898.2 716.4h0M897.6 733.5h0M899.3 754h0M900.1 767.1h0M900.8 780.4h0M900.4 798.5h0M762.2 218.6h0M781.9 233.3h0M792.2 248.5h0M809.6 260.6h0M823 274.6h0M817.9 289.2h0M827.3 308h0M833.8 322.9h0M844.1 340.2h0M845.4 356.5h0M853.8 371.3h0M852.1 387.6h0M854.3 405.4h0M851.6 422.9h0M849.5 441.4h0M860.4 458.7h0M871.6 473.4h0M877.7 486.5h0M885.7 500.3h0M890.5 518.2h0M890.8 533.5h0M894.6 549h0M897.9 567.9h0M896.4 582.2h0M897.3 597.4h0M899.6 612.6h0M898.5 628.9h0M898.5 643.7h0M898.7 660.7h0M898.8 674.9h0M896.7 692.2h0M897 709.7h0M898.8 726.5h0M897.1 740.4h0M897.3 758.4h0M898.2 777.8h0M899.8 794.8h0M743.8 217.9h0M747.6 230.1h0M765 244.2h0M781.8 261.9h0M779.9 276h0M788.5 289.4h0M792.4 302.6h0M803.6 317.1h0M820.9 333.9h0M835.5 349h0M848.7 361.3h0M853.2 375.3h0M855 391h0M857.7 405.5h0M862.7 423.1h0M874.4 441.4h0M879.6 457.1h0M887.1 475.2h0M886.1 488.2h0M890 508.1h0M892.5 521h0M896.6 539.4h0M901.1 559.6h0M903.5 573.6h0M902.4 591.3h0M903.6 605.1h0M902.5 621.6h0M901.3 635.2h0M903.3 654.5h0M902.3 667.9h0M902.4 685.1h0M901.9 700.9h0M902.1 717.4h0M904.1 731.4h0M904.5 749.2h0M903.4 762.3h0M902.4 778.7h0M902.5 796.6h0M739.4 217.5h0M742.2 233.6h0M746.2 249.1h0M755.4 266.5h0M771.3 284.3h0M791.7 303.5h0M799.3 317.1h0M808.2 335.9h0M829.5 350.7h0M838.7 364.7h0M852.1 382.9h0M849.6 410.5h0M849.7 425h0M857.2 440.7h0M868 456h0M877.3 471.9h0M891.5 502.3h0M894.7 515.6h0M899.5 542.6h0M904.6 557.1h0M904.6 572h0M904.8 590.5h0M905.8 605.6h0M903.4 618.1h0M903.8 633.7h0M905.2 647.5h0M905.1 663.1h0M905.9 680.9h0M904.6 698.9h0M905.6 713.7h0M907.4 728.4h0M906.5 746.5h0M905 760.7h0M903.9 774.4h0M903.5 794.1h0M903.8 807.4h0M758 204.8h0M775.6 221h0M789.1 235.4h0M813.6 253.6h0M818.9 271.5h0M823.1 285.1h0M834 305h0M835.2 318.1h0M849.8 336.5h0M855.7 368.9h0M859.7 383h0M867.1 398.4h0M878.9 429.8h0M884.6 446.4h0M889.9 465.1h0M894.2 496.4h0M897.8 511.2h0M899.4 523.2h0M902.8 540.1h0M904.2 558.2h0M904.3 571.4h0M904.5 589.2h0M902.7 605.5h0M903.7 625.2h0M903.3 640.5h0M904.2 658.2h0M905.1 671.4h0M905.4 685.3h0M904.7 700.4h0M907.2 718.4h0M906.1 736.8h0M905.6 752.1h0M906.3 765.9h0M907.3 778.8h0M908.2 792.6h0M906.4 807.3h0M768.1 207.5h0M784.7 222.4h0M785.7 235.9h0M787.5 252.6h0M788.9 264.9h0M819 298.7h0M839.9 316.1h0M846.7 328.5h0M847.7 343.4h0M851.4 357.4h0M850.2 375.2h0M850.2 390.9h0M854 406.6h0M860.6 423.8h0M864.8 438.4h0M873.5 452.5h0M875.3 467.9h0M880.4 482.8h0M880.8 497h0M889.9 512.9h0M894.6 530.1h0M897.9 548.9h0M902 565.1h0M900.7 581.8h0M901.9 596.1h0M900.3 610.3h0M900.5 623.7h0M902.1 641.8h0M899.2 656.5h0M898 672.1h0M897.4 689.7h0M897.9 706.8h0M899.7 723h0M899.4 740.7h0M899.2 756.7h0M899 768.2h0M899.6 786.3h0M899.9 804.2h0M759.8 211.1h0M769.5 226h0M785.8 237.6h0M804.1 254.4h0M824.1 269.8h0M838 285.4h0M843.5 297.2h0M852.8 311.9h0M860.9 329.4h0M866.9 346.4h0M872.7 364.9h0M878.6 379.1h0M878.2 408h0M883.1 420.9h0M888.1 452.3h0M893.2 471.2h0M897.1 491.7h0M899.3 507.2h0M901.4 523.7h0M903.3 536.1h0M904.9 549.9h0M906.6 563.3h0M905.2 578.5h0M907.1 592.8h0M905.5 607h0M906.1 619.9h0M906.4 635.3h0M905.5 649h0M906.6 668.7h0M904.9 686.2h0M907.1 703.7h0M908.2 716.9h0M908.4 735.1h0M906 749.5h0M907.3 763.5h0M908.5 780.3h0M907.6 795h0M907.2 810.2h0M755.1 218.1h0M760.8 236.4h0M768.6 251.4h0M775.6 268.5h0M786.3 281.7h0M810.9 301.2h0M821.2 314.1h0M822.1 327h0M839 344.9h0M851 359.6h0M848.4 370.6h0M855 387.7h0M860.7 404.2h0M863.2 423.3h0M872.5 438.1h0M870.4 451.1h0M877.8 465h0M888.2 483.9h0M888.9 497.9h0M890.1 513.5h0M894.7 529.5h0M894.9 546.4h0M897.9 558.5h0M898.3 571.6h0M898.5 585.7h0M899.2 606.3h0M901.4 633.2h0M901.3 651.5h0M902.4 668.1h0M901.9 686.1h0M902.6 700h0M905 716.8h0M904.1 733.3h0M904.8 747.1h0M902.9 764.2h0M902.8 782.6h0M902.6 798.8h0M755.6 207.1h0M775.7 220.9h0M775.9 238h0M790.7 253.9h0M795.6 266.4h0M818.2 279.7h0M814.6 295.3h0M821.7 309.9h0M827.6 322.2h0M830 335.7h0M845.1 349.6h0M847 364.7h0M854.6 375.9h0M855.2 390h0M849.9 404.9h0M851.6 420.4h0M856.5 437.2h0M862.2 451.1h0M869.9 464.9h0M880.4 477.5h0M884.1 493.7h0M887 508.6h0M889.9 524.8h0M895.2 540.8h0M899.7 559h0M902 577.4h0M900.1 596h0M899.1 627h0M900.1 641.7h0M900.6 658.5h0M899.8 674.4h0M899.1 688.8h0M899 706.8h0M899.5 724.2h0M902 739.5h0M902.1 757.6h0M901.3 771.7h0M901 788.6h0M900.2 803.1h0M747.9 209.5h0M751.4 227.4h0M759.8 242h0M779.6 253.1h0M801.1 290.3h0M826 308.6h0M844 325.7h0M850.4 339.9h0M863 355h0M868 372.3h0M873.6 389.8h0M875.7 403h0M875.7 415.5h0M874.4 434.1h0M881.3 446.8h0M883.5 464.8h0M889.2 478h0M893 492.7h0M896.6 511.3h0M897.9 525.6h0M899 539.3h0M900.6 554.9h0M901.1 570.3h0M902.2 585.1h0M903.1 599h0M901 617h0M900.5 634.4h0M900.6 649.4h0M903.2 662.4h0M902.6 675.7h0M901.3 692h0M902.2 706.2h0M903 723.2h0M904.1 742.2h0M902.5 755.3h0M901.8 767.1h0M903.7 782.8h0M902.9 795.9h0M775.1 219.3h0M788.5 234.8h0M788.9 251.6h0M813.9 268.4h0M809 282.7h0M828.5 301.2h0M837.6 319.5h0M852.5 355.4h0M859.6 366.7h0M860.9 382h0M867.3 399.9h0M868 414.1h0M874.8 429.8h0M876.6 446.7h0M884.5 464.7h0M891.6 477.2h0M894.9 493.4h0M898 508.6h0M901 525.9h0M905.2 559.1h0M905.2 574.8h0M907.7 586.7h0M907.2 605.8h0M906.4 623.4h0M906.1 640.4h0M905.6 658.3h0M906.8 671.7h0M908.4 687.5h0M907.6 701.5h0M907.8 716.3h0M907.4 730.2h0M909.1 744.1h0M907.9 758.4h0M909.1 773.4h0M909.7 791.9h0M908 807.9h0M773.3 209.3h0M795.1 227.1h0M818 240.5h0M826.2 255h0M845.8 270.4h0M847.8 287.2h0M857 305.3h0M864.9 324.3h0M875.4 340.6h0M874.5 356.5h0M873.1 369.2h0M877.2 389.2h0M878.6 404.8h0M878.4 420.7h0M883.1 438.5h0M888.2 454.1h0M891.6 470.1h0M894.3 486.8h0M898.1 502.2h0M897 517.8h0M898.2 532h0M901.3 546.8h0M903.9 566.9h0M905 579h0M904 598.6h0M904.6 617.2h0M905 631.2h0M905.9 649.6h0M906.2 666.1h0M904.8 682.6h0M905.1 698.5h0M905.6 717.6h0M904.2 735.8h0M905.3 751h0M904.6 770.5h0M905.5 782.6h0M905 800.3h0M761.6 213.6h0M772.5 245.9h0M796.5 260h0M794.6 274.4h0M793.8 286.8h0M821.2 304.5h0M836.1 321.7h0M855.7 341h0M858.1 358.9h0M858.9 376.7h0M870.2 394.4h0M873.1 408.7h0M873.2 422.2h0M876.5 434.9h0M890.6 467.3h0M893.5 481.3h0M894.1 494.8h0M893.3 509.7h0M898.2 527.3h0M898.7 541.8h0M903.5 557h0M903.5 574.2h0M906.5 592.5h0M907.1 608.4h0M907.5 627.2h0M906.8 645.7h0M906.5 661.4h0M905.1 680.6h0M906 693.6h0M906.6 708.8h0M906 728.7h0M906.6 745.5h0M908.7 761.5h0M907.6 777.8h0M906.9 793.4h0M907.7 808.9h0M780 209.1h0M802.7 225.7h0M815.2 240.7h0M838.1 252.4h0M849.6 268.6h0M856.8 284.6h0M868.4 318.9h0M877.5 336.3h0M882 351.4h0M884.8 368.2h0M888.3 381.8h0M889.3 400.5h0M890.4 415.3h0M886.7 432.6h0M889.8 446.3h0M889.8 464.9h0M892.9 478.5h0M893.6 493.4h0M898.1 507h0M900 523.3h0M902.4 540.2h0M904.5 555.7h0M907.9 570h0M906.9 585.1h0M907 601.1h0M906.2 619.4h0M905.4 631.2h0M906.1 649.5h0M907.3 663.6h0M907.3 678.6h0M909.3 693.8h0M908.8 709h0M907.4 724.2h0M908.2 738.2h0M908.7 752.7h0M909.6 771.3h0M909.9 787.2h0M910 799.9h0M795.4 211.2h0M825.3 229.9h0M849.5 266.2h0M859.8 279.9h0M853.9 293.9h0M857.1 308.2h0M867.8 322.5h0M874.3 339.1h0M882.8 354.1h0M886.7 368.5h0M887.7 384.8h0M889.6 403.8h0M891 416.1h0M891.8 434.3h0M894.1 450.3h0M897.1 463.4h0M901.1 477h0M900.7 495.3h0M902.1 507.4h0M902.7 521.9h0M903.9 536.7h0M907.5 553.9h0M908.1 570.4h0M906.5 589h0M907.7 615.9h0M906 632.6h0M905.6 645.4h0M906 662.1h0M906.2 676.1h0M907.3 693.9h0M905.7 713.3h0M909.1 728.1h0M908 746.5h0M907.6 761.8h0M908.2 778.3h0M908.7 796h0M910.1 810h0M771.8 212.2h0M784.7 226.4h0M794.9 240.7h0M792.7 253.8h0M816.9 269.6h0M827.4 284.7h0M835.2 299.4h0M843.4 319.8h0M854.8 336.4h0M862.4 353h0M871.6 370.7h0M873.8 384.2h0M871.8 398.6h0M880 414.6h0M878.5 430.1h0M877.5 445.3h0M880 462.8h0M890.8 477.5h0M892 495.1h0M896.6 527.1h0M899.8 544.4h0M902.6 563.4h0M904.1 575.6h0M902.5 593.2h0M903.1 610.6h0M903.3 622.8h0M902.1 639.7h0M902.1 656.2h0M902.7 673.5h0M902.4 702.4h0M904.3 717.2h0M903.5 749.7h0M901.5 769.3h0M904.7 783.1h0M905 797.2h0M765.3 208.6h0M763.8 228h0M761 242.1h0M801.3 273.2h0M820 285.8h0M834.4 299.1h0M839.9 315.1h0M856.4 332.6h0M869.1 360.8h0M875.9 374.7h0M878.5 389.2h0M881.1 402.3h0M887.3 416.6h0M888.9 433.8h0M891.7 447.2h0M894.5 465.8h0M897.5 485.7h0M897.2 499.6h0M898.8 516.3h0M900 532.9h0M901.6 545.5h0M904.8 564.8h0M904.2 580.3h0M904.4 598.3h0M906.1 611.5h0M907.1 626.9h0M909.2 639.8h0M907 653.4h0M905.9 672h0M906.6 689.4h0M908.5 702.2h0M908.9 715.6h0M909.1 733.5h0M908.8 749.4h0M908.9 765.5h0M908.8 783.2h0M910.6 799.9h0M770.9 205.4h0M779.1 222.5h0M776.4 236.9h0M796.7 252.5h0M814.7 267.1h0M822 283.5h0M834.4 298.7h0M843.7 318.5h0M855.4 335.9h0M857.5 354.1h0M859.2 369.8h0M856.8 383h0M861.8 400.1h0M864.3 416.9h0M872.2 429.5h0M879.6 441.9h0M879.3 455.5h0M890.5 482h0M891.3 500.8h0M894.2 517h0M895.7 534.8h0M898.3 548.2h0M901.5 563.3h0M901.7 580.5h0M902.7 598.1h0M901.6 610.8h0M902.1 628.2h0M903.6 642h0M903.5 656.7h0M902 671.2h0M903.6 683.5h0M901.7 696.7h0M901.1 711.3h0M903.8 726.4h0M903.2 745.9h0M902.4 761.2h0M901.1 774.7h0M902.1 786.7h0M902.4 801.5h0M783.4 208.2h0M794 221.1h0M802.3 236.2h0M804.3 247.8h0M813.2 261.6h0M820 275.5h0M816.2 289.2h0M824 305.8h0M830.5 318.4h0M839.8 334.5h0M851.2 349.4h0M855.5 365.3h0M863.3 378.9h0M868.5 395.5h0M868.1 412.1h0M875.3 425.5h0M881 440.6h0M885.4 455.3h0M892.8 473.5h0M895.3 490.9h0M896.2 509.1h0M900.4 526.9h0M899.2 539.5h0M901.4 557.5h0M902.7 571.2h0M901.8 589.3h0M901.4 605.3h0M902.8 621.5h0M903.8 635.4h0M903.7 651h0M902.1 668.8h0M901.1 683.9h0M903.2 701.4h0M903.4 716.5h0M903.4 734.2h0M903 747.7h0M901.6 762.5h0M903.2 774.5h0M903.1 786.7h0M902.9 805.3h0M776.6 204h0M781.5 223.3h0M801.3 240.5h0M820 258.4h0M835.2 273.9h0M838.3 290.7h0M854.3 306.9h0M860.5 321.2h0M863.8 340.1h0M871 357.7h0M874.3 375.7h0M879.8 394.4h0M878.1 411.5h0M880 423.7h0M884.1 439.5h0M888.6 458.5h0M895.7 477.1h0M897.9 494.3h0M898.1 510.8h0M902.1 524.4h0M904.7 537.5h0M905.3 556.2h0M908.1 570h0M907.3 583.2h0M906.9 598.5h0M907.3 613.1h0M908.1 630.3h0M907.1 647.5h0M908.4 661.1h0M909.3 680h0M909.9 708.9h0M910.8 724.1h0M910.3 738h0M908.6 751.2h0M909.2 764.9h0M909.9 781.3h0M907.1 797.6h0M789 213.7h0M800.9 226.4h0M810.6 242.1h0M818.6 254.4h0M814.2 270.3h0M822.7 282.5h0M822.7 300.1h0M843.2 316.2h0M857.4 328.3h0M871.2 340.8h0M876.6 361h0M880.8 378.6h0M886.3 396.2h0M886.1 412.5h0M885.9 428.3h0M886.5 441.9h0M887 453.3h0M893.5 469.5h0M896.4 483.7h0M897.5 502h0M898.5 516.2h0M898.6 534.4h0M899.5 547.1h0M903.2 560.1h0M904 575h0M903.1 591.7h0M903.3 610.5h0M905.3 624.9h0M903.9 639.1h0M903.2 655.5h0M902.3 668h0M903.1 684.9h0M903.3 699h0M902.7 713.9h0M904.7 725h0M903.8 739.8h0M903.4 756.4h0M902.1 770.5h0M902.8 788.7h0M903 807.6h0M813.2 215.5h0M836.5 232.3h0M852.2 249.8h0M856.2 269.3h0M859.6 281.8h0M859.6 298.6h0M868.4 312.1h0M871.6 325.4h0M879.8 338.4h0M885 356.9h0M887 372.1h0M889.9 386.4h0M891.4 399.6h0M890 414.4h0M892.7 426.8h0M894.7 446.3h0M896 462.2h0M900 480.3h0M900.8 494.9h0M904.1 511.4h0M905.2 531.4h0M906.8 546.4h0M907.5 565.6h0M908.2 584h0M908.4 601.7h0M908.6 618.3h0M908.5 636.1h0M909.3 654.7h0M909.1 673.1h0M910.1 687.2h0M908.5 701h0M910 717.7h0M910.1 735.1h0M910.8 754.2h0M910.6 766.9h0M910.1 786.6h0M909.8 800h0M800.4 206.3h0M822.5 219.4h0M839.1 235.8h0M852.4 252h0M855.3 267.4h0M857.6 280.4h0M862.2 298.7h0M868.4 313.7h0M874.1 329.3h0M883 346.7h0M885.5 359.6h0M885.6 376.5h0M889.4 391.1h0M888.8 409.3h0M891.8 424.9h0M893.6 441.4h0M895.4 460.3h0M899.2 477.2h0M901.3 496.3h0M903 513.9h0M904.8 529.2h0M905.7 542.6h0M906.3 560.5h0M907.9 578.3h0M909.2 589.5h0M907.7 606.5h0M907.1 622.6h0M907.3 637.3h0M909.2 654.1h0M909.6 671.9h0M908.2 690.8h0M909.3 707h0M910.8 722.3h0M908.8 740h0M908.9 752.7h0M908.3 767.9h0M910.6 781.3h0M909.5 796h0M804.5 209.7h0M826.2 223.3h0M835.8 239.2h0M846.6 252.6h0M848 267.2h0M860.9 281.8h0M857.1 294.7h0M866.8 309.8h0M873 323h0M879.6 340.4h0M886.2 358.1h0M888.9 374.1h0M889.2 386.1h0M887.6 404.7h0M888.5 418.8h0M892.5 435.4h0M893.7 450h0M898.1 468.7h0M900.9 483h0M900.9 500.1h0M902.1 517.9h0M904.2 532.8h0M904.3 547.4h0M908.1 563.4h0M907.5 578.3h0M908.2 590.7h0M908.5 602.8h0M909.2 616.9h0M909.3 647.7h0M907.8 666.9h0M907.8 679.9h0M908.8 696.8h0M909.2 711.5h0M909.9 727.7h0M908.6 747.5h0M909.4 760.9h0M910.3 776.1h0M909.8 789.8h0M910.8 804.7h0M813.5 214.8h0M834.7 233.1h0M848.9 247.2h0M855.4 263.2h0M861.1 280.4h0M858.2 296h0M866.4 312.7h0M875.4 326.6h0M880.9 341.6h0M883.3 354.1h0M890.6 390h0M891.9 406.3h0M890.5 420.3h0M893.8 438.1h0M897.1 454h0M897.9 469h0M901.4 500h0M903.7 530.9h0M904.8 543.9h0M906.9 559.5h0M907.9 574.7h0M907.8 589.3h0M909.5 605.1h0M908.3 634.6h0M908.5 651.1h0M907.5 680.9h0M908.2 699.6h0M908.9 724.9h0M910 743.7h0M909 757.1h0M908.8 774.4h0M909.6 789.4h0M911.1 803.4h0M812.4 213.1h0M829.9 231.5h0M836.1 244.9h0M843.2 260.6h0M850.4 276.4h0M853.9 291.2h0M862.9 303.7h0M873.8 322.3h0M877.5 340.3h0M882.8 358.2h0M886.2 374.6h0M888.4 387.8h0M890.2 401.1h0M890.7 421.1h0M893.8 436.5h0M894.8 450.7h0M896.6 465.7h0M899.9 484.7h0M901.6 500.4h0M901.2 518.3h0M904 534.4h0M905.5 550.2h0M905.3 562.5h0M907.9 580.8h0M909.1 594.2h0M908.3 607.7h0M907.8 622.4h0M909.2 639.1h0M908.4 655.9h0M907.8 667.2h0M908.3 682.9h0M910.1 696.6h0M908.1 711.6h0M908.3 729.6h0M909.2 744.9h0M909.8 761.9h0M909.3 775.1h0M909.4 790.4h0M908.5 805.6h0M812.5 214.4h0M835.1 231.7h0M848 249.3h0M858.3 266.7h0M861 285.5h0M866 304.1h0M868.6 320.2h0M877 334.4h0M884.3 347.7h0M886.9 362.8h0M889.6 378.3h0M888.3 391h0M889.7 406.4h0M890.3 423.7h0M892.7 437.8h0M892.7 451.8h0M895.2 465.9h0M899.2 480.5h0M900.9 496.8h0M902.2 512h0M903.4 530.3h0M906.3 542.5h0M906.7 557.7h0M908.3 572.3h0M909 590.4h0M908.7 604h0M908.5 620.7h0M909.1 636.6h0M907.6 649.7h0M908.6 668.1h0M909.7 685.5h0M909.6 700.9h0M910.1 716.1h0M908.8 730.8h0M907.8 746.2h0M908.4 760.3h0M908.9 775.6h0M907.6 790.8h0M907.4 806.2h0M812.9 215.9h0M828.7 234.6h0M837.8 249.7h0M830.1 263.1h0M832.3 280.4h0M834 297.5h0M838.3 312.9h0M853.8 331.5h0M868.3 346.8h0M868.4 365.1h0M871.8 382.7h0M878 395.8h0M875.3 410.3h0M877.9 425.3h0M881.9 437.5h0M888.2 453.9h0M892.2 472.3h0M894.2 485h0M896.8 499.4h0M898.9 515.8h0M901.7 530.4h0M903.5 545.2h0M905.5 559.7h0M904.9 572.9h0M904.7 590.6h0M905.3 607.1h0M905.1 622.3h0M905.5 641.3h0M905.3 659.1h0M904.8 673.1h0M905.8 692.1h0M904.2 706.4h0M904.8 724.3h0M905.5 741.5h0M905.5 759.8h0M906.4 776h0M905.1 795.1h0M802.2 216.8h0M811.2 230.4h0M838.4 247.3h0M834.7 265.4h0M830.3 278.8h0M839.8 292.3h0M844 308.1h0M854.2 325.6h0M857.6 338.1h0M871.2 355.2h0M873.6 369.5h0M879.7 389.1h0M876.3 404.1h0M877.1 418.3h0M880.2 432.1h0M883.2 445.6h0M890.1 462.1h0M895 478.8h0M898.5 492.5h0M900.4 505.6h0M903.8 522.7h0M905.4 538.7h0M907.2 551.7h0M909 566.4h0M908.6 578.6h0M909.4 591.9h0M909.5 609.8h0M908.5 629.2h0M907.7 644.8h0M908.9 660.8h0M910.1 675.8h0M910 691h0M910 705h0M909.7 716.9h0M909.2 735.5h0M909.2 746.7h0M909.5 762.6h0M910.3 778.2h0M909.2 792.5h0M907.6 808.5h0M799.9 210.4h0M817.6 227.6h0M845.2 245.5h0M858.4 261.1h0M857.4 275.6h0M862.6 294.5h0M868.3 311.4h0M872.8 329.1h0M876.8 345.3h0M884.8 362.7h0M886.4 379.7h0M889.4 393.6h0M892.1 410.4h0M891.7 424.2h0M894.8 440.4h0M896.5 454.6h0M898.3 473.2h0M900.2 488h0M902.2 507.2h0M901.4 522.9h0M903.9 541.6h0M906 559h0M906.2 575h0M907.8 587.2h0M908.2 602.7h0M908.2 619.7h0M907.3 637h0M909.3 656.1h0M908 673.7h0M908 690.4h0M908.4 707.4h0M908.9 720.6h0M908.5 737.5h0M909.8 766.9h0M909.7 782.5h0M909.1 795.8h0M811 214.6h0M831.8 226.9h0M845.3 244.9h0M849.2 262.8h0M850.2 279.3h0M852.2 297.6h0M861.6 313.2h0M871.6 329.3h0M879.8 342.8h0M885.8 357.5h0M886.5 374.1h0M888.4 388.2h0M887.6 401.5h0M890.9 416.9h0M889.5 431.6h0M892.4 444.8h0M893 459.1h0M899.2 476.9h0M898.9 490.5h0M901.5 509.4h0M905 521.1h0M905.7 535.7h0M908.3 567.9h0M907.1 582.9h0M909.1 599.3h0M907.5 613.5h0M908.7 650.4h0M906.9 663.9h0M908 679.6h0M910 695.8h0M908.6 714.4h0M908.3 729.8h0M906.3 746.1h0M907.9 760.4h0M907.7 776.8h0M906.8 791.5h0M908.1 804.9h0M636.5 150h0M648.4 91.3h0M652.5 78.3h0M803 200.5h0M796 203h0M789 204h0M815 207h0" stroke="#00ffff" stroke-width="7.1" stroke-linecap="round" fill="none"/>
<path d="M715.5 110.9L813.3 294.2L888.4 477.5L905.4 660.8L905.4 844.1" stroke="#0000ff" stroke-width="3.0" fill="none" stroke-linejoin="round"/>
<path d="M715.5 110.9h0M813.3 294.2h0M888.4 477.5h0M905.4 660.8h0" stroke="#0000ff" stroke-width="12.2" stroke-linecap="round" fill="none"/>
<path d="M852.8 19.3L852.8 56L852.9 92.6L853 129.3L853 165.9L853.2 202.6L853.2 239.3L853.2 294.2L854 385.9L858.9 477.5L866 569.2L868.9 660.8L870.2 752.5" stroke="#ff0000" stroke-width="8.6" fill="none" stroke-linejoin="round"/>
<path d="M852.8 19.3h0M852.8 56h0M852.9 92.6h0M853 129.3h0M853 165.9h0M853.2 202.6h0M853.2 239.3h0M853.2 294.2h0M854 385.9h0M858.9 477.5h0M866 569.2h0M868.9 660.8h0M870.2 752.5h0" stroke="#ff0000" stroke-width="12.2" stroke-linecap="round" fill="none"/>
<path d="M825.4 19.3L825.4 56L825.4 92.6L825.4 129.3L825.4 165.9L825.4 202.6L825.5 239.3L826.2 294.2L827.1 385.9L832 477.5L867.8 569.2L878.5 660.8L882.5 752.5" stroke="#c98a14" stroke-width="3.2" fill="none" stroke-linejoin="round"/>
<path d="M825.4 19.3L825.4 56L825.4 92.6L825.4 129.3L825.4 165.9L825.4 202.6L825.5 239.3L826.2 294.2L827.1 385.9L832 477.5L867.8 569.2L878.5 660.8L882.5 752.5" stroke="#ffa500" stroke-width="2" fill="none" stroke-linejoin="round"/>
<path d="M825.4 19.3h0M825.4 56h0M825.4 92.6h0M825.4 129.3h0M825.4 165.9h0M825.4 202.6h0M825.5 239.3h0M826.2 294.2h0M827.1 385.9h0M832 477.5h0M867.8 569.2h0M878.5 660.8h0M882.5 752.5h0" stroke="#c98a14" stroke-width="12.6" stroke-linecap="round" fill="none"/>
<path d="M825.4 19.3h0M825.4 56h0M825.4 92.6h0M825.4 129.3h0M825.4 165.9h0M825.4 202.6h0M825.5 239.3h0M826.2 294.2h0M827.1 385.9h0M832 477.5h0M867.8 569.2h0M878.5 660.8h0M882.5 752.5h0" stroke="#ffa500" stroke-width="11.2" stroke-linecap="round" fill="none"/>
<path d="M726.7 19.3L726.7 56L726.7 92.6L726.8 129.3L727 165.9L727.4 202.6L727.4 239.3L727.4 294.2L734.4 385.9L773.4 477.5L799.5 569.2L820.3 660.8L834.5 752.5" stroke="#008000" stroke-width="3.0" fill="none" stroke-linejoin="round"/>
<path d="M726.7 19.3h0M726.7 56h0M726.7 92.6h0M726.8 129.3h0M727 165.9h0M727.4 202.6h0M727.4 239.3h0M727.4 294.2h0M734.4 385.9h0M773.4 477.5h0M799.5 569.2h0M820.3 660.8h0M834.5 752.5h0" stroke="#008000" stroke-width="12.2" stroke-linecap="round" fill="none"/>
<path d="M773.2 28.4L773.2 47.5L773.2 67.8L773.2 89.3L773.2 112.4L773.2 137.4L773.2 164.7L773.2 194.8L773.2 228.4L773.2 266.2L773.2 309.1L775.1 358.3L807.4 415.2L852.6 481.4L868.5 559L894.4 650.5L899.7 758.8" stroke="#ff00ff" stroke-width="3.0" fill="none" stroke-linejoin="round"/>
<path d="M773.2 28.4h0M773.2 47.5h0M773.2 67.8h0M773.2 89.3h0M773.2 112.4h0M773.2 137.4h0M773.2 164.7h0M773.2 194.8h0M773.2 228.4h0M773.2 266.2h0M773.2 309.1h0M775.1 358.3h0M807.4 415.2h0M852.6 481.4h0M868.5 559h0M894.4 650.5h0M899.7 758.8h0" stroke="#ff00ff" stroke-width="12.2" stroke-linecap="round" fill="none"/>
</g>
<rect x="573.5" y="19.3" width="400.5" height="784" fill="none" stroke="#000" stroke-width="1.33"/>
<path d="M621.5 803.3v6M684 803.3v6M746.6 803.3v6M809.2 803.3v6M871.8 803.3v6M934.4 803.3v6M573.5 19.3h-6M573.5 110.9h-6M573.5 202.6h-6M573.5 294.2h-6M573.5 385.9h-6M573.5 477.5h-6M573.5 569.2h-6M573.5 660.8h-6M573.5 752.5h-6" stroke="#000" stroke-width="1.33" fill="none"/>
<text x="621.5" y="829.8" font-size="17.6" text-anchor="middle" textLength="47.7" lengthAdjust="spacingAndGlyphs">32.00</text>
<text x="684" y="829.8" font-size="17.6" text-anchor="middle" textLength="47.7" lengthAdjust="spacingAndGlyphs">32.25</text>
<text x="746.6" y="829.8" font-size="17.6" text-anchor="middle" textLength="47.7" lengthAdjust="spacingAndGlyphs">32.50</text>
<text x="809.2" y="829.8" font-size="17.6" text-anchor="middle" textLength="47.7" lengthAdjust="spacingAndGlyphs">32.75</text>
<text x="871.8" y="829.8" font-size="17.6" text-anchor="middle" textLength="47.7" lengthAdjust="spacingAndGlyphs">33.00</text>
<text x="934.4" y="829.8" font-size="17.6" text-anchor="middle" textLength="47.7" lengthAdjust="spacingAndGlyphs">33.25</text>
<path d="M1120.5 19.3V803.3M1202.5 19.3V803.3M1283.5 19.3V803.3M1364.5 19.3V803.3M1445.5 19.3V803.3M1070.6 110.5H1469.6M1070.6 202.5H1469.6M1070.6 294.5H1469.6M1070.6 385.5H1469.6M1070.6 477.5H1469.6M1070.6 569.5H1469.6M1070.6 660.5H1469.6M1070.6 752.5H1469.6" stroke="#b2b2b2" stroke-width="1" stroke-dasharray="3.2 1.5" fill="none"/>
<g clip-path="url(#c2)">
<path d="M1163.1 57.8h0M1160 74h0M1156.8 86.1h0M1162.6 101.5h0M1160 119.1h0M1160.4 136.8h0M1166.7 153.2h0M1163.6 167.3h0M1173.8 181.8h0M1174 199.2h0M1158.9 56.2h0M1161.2 69.9h0M1164.3 83.5h0M1165.1 101.1h0M1157.9 112.9h0M1167.7 131h0M1163.6 144.1h0M1166.8 157.2h0M1167.1 174.2h0M1173.7 191.5h0M1162.8 46.5h0M1160.2 61.4h0M1165.8 77.3h0M1163.4 95h0M1161.3 108.3h0M1160.6 127.3h0M1175.8 144.5h0M1165.5 160.9h0M1167.3 178.6h0M1173.2 191.6h0M1165.2 46.8h0M1159.9 62h0M1159.7 81.1h0M1159.4 96.6h0M1163.9 114.1h0M1163 142.5h0M1166.7 157.9h0M1175.6 174h0M1170.2 189.2h0M1169.9 46.5h0M1164.5 59.1h0M1172.3 75.6h0M1157.1 92.5h0M1159.4 110h0M1161.8 123.5h0M1167.5 137.4h0M1163.2 151.3h0M1165.7 168.7h0M1172.8 188.1h0M1186.5 202.4h0M1166.3 58.3h0M1168.4 76.9h0M1165.1 92.9h0M1159.2 108.7h0M1162.5 123.9h0M1163.9 139.2h0M1167.5 153.5h0M1176.3 168.5h0M1177.9 184.5h0M1183.7 202.7h0M1165.8 45.3h0M1161.7 61.4h0M1168.3 78.3h0M1157.3 89.4h0M1160.8 108.3h0M1165.6 126.9h0M1163.3 144.6h0M1167.7 163.8h0M1174.1 176.5h0M1173.2 191.6h0M1160.9 54.6h0M1172 72h0M1170.7 89.3h0M1164.9 103.1h0M1164.8 116.6h0M1165.4 133.6h0M1165.8 147.8h0M1172.6 165.8h0M1170.2 181.3h0M1177.2 198.9h0M1168.3 56.2h0M1173.4 74h0M1173.8 88.4h0M1171 105.3h0M1161.9 119.5h0M1175.6 136.2h0M1163.8 150.5h0M1174 163.6h0M1171.1 180.6h0M1185.3 197.6h0M1168.1 59.5h0M1173.5 75.6h0M1166.8 90.7h0M1174.3 108.4h0M1171.1 124.9h0M1168.3 142.8h0M1178.2 159.7h0M1183.7 202.1h0M1170.3 47.1h0M1165.2 67.2h0M1171.7 78.7h0M1169.2 92.5h0M1170.2 105.6h0M1169.4 121h0M1173.9 137.9h0M1175.9 152.6h0M1170.9 169.5h0M1178.2 182.1h0M1186.3 199.5h0M1170.9 52.6h0M1167.8 67.6h0M1165.7 85.6h0M1172.7 99.8h0M1172.7 117.7h0M1171.4 133.7h0M1170.4 149.2h0M1169.3 162.9h0M1180.1 181.2h0M1179.9 197.3h0M1168.5 54h0M1175.4 71.2h0M1169 86.5h0M1168.9 102.5h0M1170.8 119.6h0M1167 136.5h0M1176.2 153.4h0M1175.5 169.3h0M1177.9 188h0M1174.1 48.7h0M1164.4 61.7h0M1169.4 74.3h0M1172.9 90h0M1172.2 107.2h0M1172.2 121.6h0M1175.9 138.5h0M1172.2 157.3h0M1178.3 168.6h0M1177.9 182.6h0M1178.3 198h0M1174 58.3h0M1172.9 74h0M1167 92.3h0M1161.1 104.9h0M1175.2 120h0M1170.8 137h0M1168.8 149.9h0M1177.8 165.1h0M1178.2 184.5h0M1178 197.3h0M1174.4 61.8h0M1171.3 75.7h0M1172.3 90h0M1175.4 105.8h0M1174.5 122.7h0M1174.8 140.7h0M1178.5 156.2h0M1176.3 171.4h0M1175.4 187.3h0M1184 201.6h0M1190.3 58.8h0M1186.9 76.3h0M1193 94h0M1195.8 107.9h0M1189.8 124.3h0M1202.8 138.6h0M1199.7 156.2h0M1197.3 173.8h0M1206.1 186.5h0M1202.1 202.4h0M1186 47.5h0M1194.3 64h0M1187.5 82.5h0M1188.2 99.2h0M1190.2 113.6h0M1188.9 126.6h0M1195.5 143.4h0M1192 158.5h0M1197.9 173h0M1220.8 190.8h0M1188.2 50.5h0M1185.7 64.3h0M1188.5 77.3h0M1191.6 92.8h0M1190.7 111.2h0M1188.7 128.6h0M1192.9 146.6h0M1208.9 162.7h0M1214.8 177.9h0M1211 195.5h0M1185.5 59.6h0M1204.3 73.7h0M1194.2 89.2h0M1189.8 103.8h0M1197.3 122.1h0M1190.3 137.2h0M1191.7 153.7h0M1198.1 169.3h0M1204.1 188.2h0M1221 202h0M1195.7 56.5h0M1208.7 69.4h0M1188.5 83.7h0M1191.4 101.6h0M1192 115.5h0M1189.2 131.7h0M1193.5 149.6h0M1216.6 166.4h0M1219.8 202h0M1185.8 47.8h0M1193.9 64.2h0M1192.5 82.6h0M1188.8 94.9h0M1194.7 109.8h0M1195.3 125.4h0M1194.6 137.7h0M1197.6 156h0M1207.3 170.8h0M1222.4 187.8h0M1192.5 60h0M1187.5 76.8h0M1191.2 94.9h0M1198 107.6h0M1204.1 122.9h0M1199.3 137.9h0M1193.4 153.8h0M1206.2 170.7h0M1216.6 186.6h0M1213.2 200.3h0M1202.7 52.7h0M1201.4 71.4h0M1198.6 89.1h0M1198.9 105.6h0M1195.6 118.3h0M1202.1 135.5h0M1193.5 154h0M1201 167.9h0M1215.9 182.8h0M1235.8 199.5h0M1195.6 50h0M1200.1 68h0M1188.6 83.9h0M1202.3 97.9h0M1195.2 111.3h0M1204.7 130.5h0M1202.5 143.4h0M1207.5 162h0M1209.9 174.2h0M1225 192.4h0M1189 52.7h0M1186.6 68.2h0M1188 82.7h0M1188.7 98.2h0M1189.1 112.7h0M1197.5 128.6h0M1189.2 146.9h0M1193.4 163.1h0M1211.5 180.9h0M1203.2 197.8h0M1185.9 60.9h0M1199.8 78.3h0M1199.2 97.3h0M1201.4 111.6h0M1199.2 129.5h0M1209.3 148.2h0M1193.2 162h0M1197.5 178.7h0M1235.4 197.4h0M1192.4 49.9h0M1192 62.7h0M1201.6 93.3h0M1202.9 110.7h0M1209.3 129.3h0M1196.1 141.7h0M1203.8 157h0M1200 173.6h0M1226.4 192.5h0M1195.7 58.4h0M1208.4 88.8h0M1188.8 105.9h0M1199.5 120.6h0M1196 140.7h0M1202.9 152.3h0M1204.3 167h0M1211.4 182.2h0M1234.4 199.5h0M1200.5 56.4h0M1194 70.4h0M1201.1 86.6h0M1192.1 102h0M1209.4 117.3h0M1207.5 134.3h0M1201.5 148.2h0M1211.9 164.4h0M1199.6 181.3h0M1188.1 47.9h0M1203.8 66.3h0M1199.3 80.9h0M1193.9 93.1h0M1199.1 109.9h0M1191 125.6h0M1215 143.3h0M1193.5 162.2h0M1217.8 177.5h0M1198.4 194.6h0M1186.2 59.9h0M1202.6 76.9h0M1197.8 93.9h0M1205.4 109h0M1201.9 126.9h0M1200.4 141.3h0M1209.9 159.7h0M1215.4 178.2h0M1215.6 196.3h0M1200.5 57.6h0M1198.8 74.4h0M1200.8 90.4h0M1193.1 104.5h0M1205.1 123h0M1201.4 139.4h0M1195.4 151.6h0M1210.2 170.6h0M1216 186.1h0M1237.3 199.8h0M1192.5 51.2h0M1203 63.8h0M1209.5 77.4h0M1207.8 95.9h0M1198.2 110.7h0M1211.9 124.8h0M1205.8 143h0M1217 160h0M1208.1 177.8h0M1230.7 192.1h0M1200.5 46.3h0M1194.7 61.7h0M1206.5 79.3h0M1199.6 97.2h0M1207.4 115.3h0M1207.8 134.1h0M1216.6 151.4h0M1214.1 165.8h0M1205.1 184.7h0M1235.1 198.4h0M1202 52.8h0M1209.4 67.2h0M1207.3 82.6h0M1206.3 94h0M1204.3 112.1h0M1207 129.7h0M1200.8 144h0M1211 161.7h0M1225.9 174.3h0M1242.8 193.6h0M1200.3 53.1h0M1199.3 67.2h0M1194.6 98.1h0M1204.8 112.9h0M1210.5 125.5h0M1214.5 137.9h0M1196.6 155.5h0M1220.2 173.8h0M1228.4 190.6h0M1202.9 46.7h0M1205.6 61.3h0M1196.7 77h0M1211.5 93.3h0M1206.6 107.4h0M1201 123.1h0M1213.1 136.9h0M1204 155.1h0M1218.8 166.6h0M1224.3 184.2h0M1232.5 195.7h0M1199.8 53.8h0M1204.2 69.9h0M1198.1 86.9h0M1195.2 104.5h0M1207.2 119.2h0M1203.6 137.8h0M1217.7 157.1h0M1225.5 174.9h0M1234.6 191.1h0M1199.2 47.5h0M1204.8 60.9h0M1211 76.5h0M1211.3 94.8h0M1200.9 110.1h0M1210.3 124.9h0M1210.2 140.7h0M1200.8 153.2h0M1215.3 173.1h0M1230.4 188.9h0M1199.5 47h0M1200.4 63.9h0M1208.3 78.6h0M1202.3 93.6h0M1196.4 113.1h0M1209.5 131h0M1209.1 145.1h0M1219 161h0M1226.2 174.8h0M1238.2 192.4h0M1205.7 61h0M1209.8 77.6h0M1208 97h0M1211.3 109.2h0M1207.4 124.5h0M1204.3 138.6h0M1214.6 157.1h0M1220 170.4h0M1228.9 185.4h0M1247.6 198.4h0M1205.9 57.2h0M1205.4 73.9h0M1209.5 92.9h0M1207.1 110.1h0M1206.8 126.8h0M1198.7 142.2h0M1217.5 161h0M1222 173.8h0M1236.9 189h0M1208.9 218h0M1212.2 235.1h0M1226.6 267.7h0M1240.8 280.8h0M1250.3 293.7h0M1262.4 313.9h0M1274.4 330.5h0M1300.2 349.5h0M1325.1 386h0M1331.3 403.1h0M1334.3 418.1h0M1337.7 433.1h0M1346.6 447.4h0M1347 461.3h0M1357.9 476.6h0M1359.7 493h0M1363.9 504.9h0M1367.4 521.7h0M1368.2 535h0M1369.3 549.2h0M1369.7 564.6h0M1370.9 581.5h0M1372.3 594.9h0M1374.9 615.3h0M1375.1 629.8h0M1376.5 645.5h0M1378.8 658.1h0M1378.9 671.7h0M1380.2 689.6h0M1379.3 707h0M1380.2 725.2h0M1380.6 740h0M1381.2 755.4h0M1383.5 768.7h0M1383.3 785.1h0M1382.3 797.2h0M1207.1 214.2h0M1209.7 230.5h0M1210.2 244.6h0M1222.6 259.3h0M1223.6 272h0M1238.4 285.7h0M1256.7 304.5h0M1269.7 316.7h0M1291 332.9h0M1297.5 346.5h0M1297 359.1h0M1306.3 375.7h0M1311.8 393.2h0M1321.4 406.8h0M1321.5 420.9h0M1325.5 437.2h0M1338.3 454h0M1347.3 471.1h0M1355.9 488.8h0M1359 505.9h0M1363.1 520h0M1366.6 534.6h0M1368.5 552.8h0M1371 571.2h0M1371.9 586.6h0M1377.3 617.7h0M1377 632.6h0M1378.2 645.3h0M1380.2 659.8h0M1380.5 675.2h0M1381.2 690.1h0M1381.1 717h0M1383.9 734.2h0M1382.2 751.3h0M1383 784.1h0M1384.5 798h0M1204.6 213.1h0M1212.6 226h0M1218 242.4h0M1224.8 260.9h0M1224 274.8h0M1240 288.6h0M1257.5 306.8h0M1279.3 323.6h0M1291.2 341.7h0M1297.2 354.5h0M1300.2 371.9h0M1306.1 386.7h0M1308.3 404.5h0M1314.9 418.1h0M1332.4 449.7h0M1342.3 462.1h0M1355.1 477h0M1361.1 494h0M1364.3 510.5h0M1364.8 525.4h0M1367.1 541.3h0M1369.8 558.8h0M1370.9 573h0M1372.8 587.1h0M1373.6 603.7h0M1374.9 617.5h0M1376.3 633.1h0M1379.5 650.9h0M1379.9 663.1h0M1380.8 678h0M1379.7 692.1h0M1381.2 711.6h0M1380.9 728.9h0M1382.3 745.9h0M1381.1 764.2h0M1383.4 782.8h0M1384.7 801.1h0M1206 216.6h0M1211 234h0M1215.7 249.7h0M1222.3 263.6h0M1242.6 275.4h0M1251.1 291.4h0M1256.6 308.6h0M1271.5 325.7h0M1283.9 344.4h0M1305.8 376h0M1318.3 391.7h0M1319.7 406.5h0M1324.8 419.4h0M1335.6 436.3h0M1341.7 454.4h0M1351.5 473.3h0M1354.5 490h0M1359.6 505.9h0M1362.7 525.8h0M1365.1 539.1h0M1367.2 554.8h0M1369.6 570.8h0M1371.5 584.1h0M1374 602.1h0M1373.6 614.6h0M1375.7 633.4h0M1377 647.2h0M1378.5 666.4h0M1378.7 680.4h0M1380 695.4h0M1381.7 713.2h0M1382.2 729.7h0M1381.7 743.5h0M1384.1 771.2h0M1386 788.8h0M1386.5 806.8h0M1213.2 204.8h0M1232.1 241.5h0M1237.1 266.7h0M1249.1 282.4h0M1272.1 295.9h0M1290.4 310.1h0M1299.9 323.6h0M1304.1 336.6h0M1304.8 348.9h0M1312.4 362.8h0M1323.7 377.7h0M1328.5 392.5h0M1333.6 410.2h0M1333.1 428.2h0M1338 445.6h0M1343.3 460.8h0M1351.3 475.5h0M1357.6 488.4h0M1359 501.4h0M1361.3 519.7h0M1365.8 538.1h0M1367 550.7h0M1371 562.7h0M1372.2 580.9h0M1375.5 597.1h0M1375.7 612.2h0M1375.3 631.3h0M1378.6 646.6h0M1379.9 664.2h0M1381.1 682.7h0M1380.1 700.7h0M1380.6 716.1h0M1381.1 734h0M1382.4 753.1h0M1383.2 767.9h0M1383.5 784.2h0M1383.7 798.7h0M1203.6 204.7h0M1209.8 219.5h0M1209.1 238.5h0M1217.5 252.4h0M1226.7 269.5h0M1236.6 282.1h0M1260.8 300.2h0M1277.3 318.5h0M1291.9 333.6h0M1294.8 346.6h0M1294.6 364h0M1305.3 378.7h0M1317.3 394.8h0M1324.5 414h0M1336.8 441.5h0M1345.3 460.7h0M1354.3 476.6h0M1356.6 489.6h0M1361.4 507.8h0M1362.7 522.7h0M1364 536.6h0M1368.2 555.6h0M1370.4 573h0M1371.5 588.5h0M1373.2 606.7h0M1374.9 617.7h0M1376.4 636.5h0M1377.7 654.7h0M1377.9 667.5h0M1380.5 685.2h0M1380.4 702.5h0M1380.1 714.2h0M1381.1 728.2h0M1381.3 743h0M1380.7 757.5h0M1383.2 774.9h0M1382.3 788.3h0M1384.3 804.8h0M1213.4 206.3h0M1216.3 218h0M1222.5 232.3h0M1220.5 247.7h0M1227 262.1h0M1243 279.6h0M1246 291.1h0M1270.6 322.3h0M1290.8 338.8h0M1288.2 356.3h0M1295 370.9h0M1307.1 388.2h0M1312.6 405.7h0M1326.3 423.6h0M1332.1 441.4h0M1343 458.6h0M1351.7 472.5h0M1357.7 490.5h0M1357.9 508.9h0M1362.7 526.4h0M1365.9 544.9h0M1368.3 563.4h0M1369.7 578h0M1373 595.9h0M1374.5 614.1h0M1376.2 625.2h0M1376.6 641.1h0M1379.2 656.8h0M1380.3 675.4h0M1380.3 689h0M1380.2 709.7h0M1380.8 722.2h0M1382.1 740h0M1384.4 753.2h0M1383.5 767.6h0M1386.2 787h0M1386.3 802.9h0M1208.4 207.3h0M1207.7 225.2h0M1214.6 240.6h0M1221.6 256.1h0M1230.7 270.6h0M1244.7 284.8h0M1259 298.7h0M1265.4 314.9h0M1286.5 331.1h0M1298.4 348.2h0M1312.4 363h0M1323.9 377.6h0M1324.3 392.7h0M1333.8 408.6h0M1339.6 425.4h0M1347.5 439.6h0M1352.2 458.7h0M1356.2 471.9h0M1359.9 487.4h0M1360.6 499.9h0M1367.1 516.3h0M1369.4 529.5h0M1370.3 543.5h0M1371.6 556.4h0M1373.6 573.1h0M1372.8 593.6h0M1376.8 623.4h0M1377.8 640.3h0M1379.2 653.5h0M1379.7 671.1h0M1379 684.6h0M1379.9 702.1h0M1380.4 718.9h0M1382 736.4h0M1382.2 752.3h0M1382.8 765.1h0M1385.4 781.8h0M1386.6 797.3h0M1227.7 209.1h0M1236.8 222.1h0M1244.4 236.1h0M1265.4 252.8h0M1282.7 270.8h0M1288.3 283.7h0M1301.1 299.2h0M1312.1 316.9h0M1324.4 336.8h0M1329.5 348.1h0M1334.1 364.1h0M1338.6 382h0M1339.7 395.4h0M1340.1 409.4h0M1344.6 422.8h0M1350.8 438.8h0M1355.1 450.3h0M1356.8 465.4h0M1360.5 482.7h0M1364.2 500h0M1367.8 512.2h0M1369.7 527.6h0M1372 541.1h0M1374.3 558.7h0M1375 574.6h0M1376.2 590.5h0M1377.7 604.6h0M1377.1 615.7h0M1378 636h0M1379.3 650.7h0M1381.3 669h0M1380.6 686.7h0M1380.8 700.9h0M1382 717.2h0M1381.9 735.9h0M1382.8 752.6h0M1384.6 770.3h0M1384.7 785.4h0M1386.2 802.4h0M1222.4 208h0M1236.8 220.7h0M1240.4 236.6h0M1257.3 250.6h0M1263 265.6h0M1273.8 283.8h0M1277.6 296.3h0M1278 309.7h0M1288.5 323h0M1299.9 336.5h0M1300.2 356h0M1292.6 372h0M1306.2 391h0M1320.6 422.3h0M1332.3 437.2h0M1340.3 452.8h0M1345.4 468.6h0M1355.2 485h0M1359 503.7h0M1362.6 519.6h0M1365.5 538.9h0M1368.3 558.4h0M1370.5 575.9h0M1373 592.4h0M1375.3 625.9h0M1377.1 640.3h0M1377.8 652.6h0M1379.6 671.3h0M1381.1 684.2h0M1380.6 701.5h0M1380 715.8h0M1380.6 733.4h0M1380.5 747.3h0M1382.1 762.1h0M1383.4 776.4h0M1384 795.2h0M1383.5 811.3h0M1221.9 204.6h0M1235.9 219h0M1251.7 235.2h0M1258.5 253.7h0M1270.5 271.3h0M1283.7 286.2h0M1298.1 304.7h0M1317.8 322.8h0M1319.8 335.4h0M1329.5 353.4h0M1337.8 368.7h0M1342.5 387.6h0M1343.7 400.4h0M1348.3 416.9h0M1350.6 431.2h0M1354.2 443.1h0M1359.1 459.9h0M1362.7 476.8h0M1364.5 490.4h0M1368 505.1h0M1370.2 522.7h0M1370.9 537.7h0M1373.5 554.7h0M1374.1 571.5h0M1375.2 586.5h0M1377.1 601h0M1377.1 617.1h0M1377.5 635.5h0M1380.7 653.1h0M1381.4 667.5h0M1381.3 682.2h0M1381.9 697.7h0M1383.5 711.3h0M1383.4 723.8h0M1383.6 738.5h0M1385.1 757.6h0M1383.2 773.5h0M1385.2 787.9h0M1384.6 801.5h0M1213.7 207.7h0M1220.9 224.8h0M1220.4 237.7h0M1219.8 252.4h0M1233.2 269.1h0M1232.9 286.2h0M1251.8 302.5h0M1267.5 321.9h0M1293.7 352.4h0M1298.2 364.5h0M1310.1 391.1h0M1313.9 403.4h0M1329.4 436.3h0M1336.1 450.2h0M1345.2 466.8h0M1356.7 480h0M1358.1 493.4h0M1360.8 511.3h0M1364 530h0M1365.6 541.3h0M1369.4 553.5h0M1370.7 568.9h0M1374 585.5h0M1372.9 600.9h0M1375.4 617.9h0M1375.7 632.1h0M1377.2 645.8h0M1377.9 662.7h0M1378.3 678.1h0M1380.6 696h0M1380 714h0M1381.8 731.8h0M1382 749.7h0M1381.4 762.8h0M1382.1 776.3h0M1383.5 789.1h0M1384.8 806.3h0M1220.5 210.3h0M1228 223.6h0M1234.6 240.1h0M1245.1 255.8h0M1242.7 271.3h0M1259 287.2h0M1273.9 300.9h0M1276.8 317.8h0M1287.1 331.3h0M1307 349.3h0M1317.7 369.4h0M1317.5 380.5h0M1316.7 396.4h0M1312.5 414.4h0M1325.3 431.6h0M1335.5 448.2h0M1344.4 463.7h0M1355.3 480.1h0M1354.9 494.9h0M1360.3 507.6h0M1362.1 520.1h0M1365.6 534.7h0M1366.9 553.1h0M1370.4 567h0M1370.4 583.2h0M1372.1 603.4h0M1375.7 621.2h0M1376.9 634.2h0M1377.4 652.2h0M1378.5 669.9h0M1379.4 687.1h0M1380.7 704.5h0M1381.2 718h0M1382 732.9h0M1381.2 748.6h0M1381.9 763.2h0M1382.2 775.3h0M1383 792.8h0M1383.5 809.3h0M1214.6 207.6h0M1216.7 225.6h0M1226.5 242.2h0M1240.1 258.7h0M1261.8 274.4h0M1272.9 291.1h0M1287.4 307.2h0M1296.3 320.1h0M1300.5 332.8h0M1317 350.3h0M1327.1 365.4h0M1336.8 385.3h0M1340.5 399.1h0M1343.9 412.9h0M1348.5 426h0M1355.8 443.8h0M1355.4 458.6h0M1364.9 476.1h0M1366.2 492.6h0M1367.8 506.1h0M1370.6 522h0M1371 535.1h0M1373 549.1h0M1374.4 567.6h0M1376.2 583.9h0M1376.9 599.2h0M1377.9 615.5h0M1378.1 633.9h0M1378.4 648.6h0M1380 663.4h0M1379.1 677h0M1380.3 693.5h0M1381.1 710h0M1380.4 727.5h0M1380.8 744.4h0M1381.7 758.2h0M1381.4 772.7h0M1383.3 790.7h0M1384.6 808.7h0M1223.5 219.1h0M1220.7 237.4h0M1215.2 253.8h0M1224.6 271.9h0M1231.8 285.7h0M1253.2 300.5h0M1262.5 314.9h0M1276.6 334.1h0M1295.7 348.6h0M1292 365.9h0M1298.1 379.6h0M1307.1 394h0M1312.1 410.7h0M1319.6 428.9h0M1330.2 445.8h0M1344.4 462.4h0M1350.2 475.2h0M1355.6 489.2h0M1360.6 500.3h0M1361.5 518.6h0M1364.1 531.9h0M1366.7 548h0M1368.2 561.7h0M1371.1 576.5h0M1372.7 589.6h0M1374.8 607h0M1376.9 623.8h0M1378.4 641h0M1378.4 655.1h0M1378.1 673.2h0M1380.4 686.7h0M1379.6 705.3h0M1382.3 721.2h0M1383.2 736.9h0M1382.9 788h0M1383.3 801.4h0M1237.8 206.9h0M1257.3 222.3h0M1263.2 236.6h0M1274.7 256.3h0M1280.1 269.5h0M1290.8 283h0M1310 299.3h0M1315 316.7h0M1327.3 333.6h0M1338.9 346.1h0M1341.6 363.1h0M1345.6 377.5h0M1349 393.1h0M1349.8 407.9h0M1353.6 426.6h0M1358.5 442.7h0M1360.7 461.9h0M1365.1 479.4h0M1368.7 492.5h0M1367.6 508h0M1369.9 523.4h0M1371.2 539.8h0M1373.9 557.1h0M1376.2 571.7h0M1376.3 587.7h0M1378.2 602.8h0M1379 634.7h0M1379.1 652.6h0M1379.8 663.9h0M1380.9 680.4h0M1380.4 693.2h0M1382.2 707.6h0M1382.6 722.6h0M1381.6 737.5h0M1383.2 757.1h0M1384.2 773.7h0M1385.1 789.2h0M1385 808.4h0M1233.7 206.3h0M1253.4 224.2h0M1270.9 236.9h0M1289.3 255.1h0M1299.5 269.1h0M1313 287h0M1319.1 300.3h0M1327.1 313.6h0M1332.8 327.4h0M1333 342h0M1339.7 358.5h0M1339.2 372.2h0M1343.7 392h0M1349.7 406.8h0M1351.5 422.2h0M1352.7 440h0M1359.3 451.6h0M1363.9 469.2h0M1365 484.2h0M1368.1 502.5h0M1368.7 516.9h0M1372.8 530.7h0M1373.1 544.9h0M1376.8 563.6h0M1376.5 591.9h0M1378.5 605.2h0M1379.1 622.6h0M1381.2 640.7h0M1382 655.8h0M1381.7 669.4h0M1382.3 687.1h0M1383.2 699.9h0M1383 716.1h0M1383.2 734.6h0M1383.6 748h0M1385.2 759.9h0M1385.3 777.4h0M1385.7 790.2h0M1386.3 809.4h0M1223.3 204.7h0M1227.3 222.2h0M1227.3 240h0M1241.5 253.8h0M1264.4 285.5h0M1279.2 302.8h0M1301.4 320.8h0M1305.6 335.4h0M1307.3 351.4h0M1314.2 368.3h0M1327.5 386.2h0M1331.9 399.7h0M1335 411.8h0M1334.2 429.1h0M1340.1 442.2h0M1342.4 455.5h0M1349.5 468.6h0M1357.1 486.8h0M1359.5 505.4h0M1362.5 522.1h0M1364.5 538h0M1368.2 553.6h0M1370.5 568.1h0M1372.6 584.1h0M1373.7 601.4h0M1373.6 617.2h0M1376 628.9h0M1376.5 643.8h0M1379.7 658.9h0M1380.2 674.9h0M1380 690.4h0M1382 705.7h0M1381 720.7h0M1382.5 737.1h0M1381.9 754.9h0M1381.9 772.2h0M1382.9 790.6h0M1384.6 803.6h0M1234 206.7h0M1255.5 221.8h0M1257.5 236.3h0M1260.3 255.2h0M1264.1 270.4h0M1278.8 284.4h0M1279.7 299.3h0M1284.6 317.7h0M1296.6 332.1h0M1304 349.3h0M1309.7 363.4h0M1321.8 376.9h0M1326.9 393.4h0M1340 410.7h0M1346.3 425.5h0M1348.1 444.1h0M1356.4 461.7h0M1362.2 476.9h0M1366.9 492.3h0M1367.4 507.5h0M1369.8 526.1h0M1369.2 542h0M1370.9 559h0M1373.2 574.6h0M1373 590.6h0M1375.8 608.3h0M1377.1 624.4h0M1376.8 643.1h0M1379 657.4h0M1379.8 676.4h0M1379.8 691h0M1381.5 710.2h0M1381.6 726.4h0M1382 742.4h0M1381.9 760.7h0M1383.3 773.8h0M1383 788.2h0M1385.3 802h0M1229.5 217.5h0M1245.2 234.4h0M1246.3 250.6h0M1266.9 266.6h0M1271 278.9h0M1283.6 295.6h0M1303.3 310.4h0M1320.1 322.7h0M1327 337h0M1339 351.2h0M1342.2 369.3h0M1343.9 385.4h0M1344.3 400h0M1347 416.6h0M1349.8 431.9h0M1356.6 443.9h0M1356.9 459.3h0M1363.3 476.4h0M1366.9 492.2h0M1366.9 505h0M1367.3 523.7h0M1369 537.1h0M1371.8 552.5h0M1374.3 570h0M1375.1 587.9h0M1376.6 601.3h0M1376.4 619.6h0M1379.4 637.4h0M1378.6 653.4h0M1380.6 671.2h0M1381.9 688.9h0M1381 705.9h0M1382.1 720.9h0M1382.3 733.5h0M1384.2 752.7h0M1384.7 767.1h0M1385.9 783.3h0M1386.6 797.2h0M1226.7 217.7h0M1236.5 231.1h0M1246.2 246.1h0M1247.8 262.6h0M1269.3 280.5h0M1275.9 294h0M1275.1 310.6h0M1285.7 325.7h0M1300.7 341.8h0M1306.4 356.8h0M1312 376.4h0M1317 389.7h0M1324.9 406.1h0M1333.4 420.8h0M1344.7 441.2h0M1351 456.4h0M1358.2 471h0M1361.9 486.3h0M1362 500h0M1362.6 511.7h0M1366.9 526h0M1369.7 545h0M1372 558.1h0M1372.2 576.7h0M1374.6 593.6h0M1376.2 623.9h0M1378.7 641.2h0M1378.8 657.1h0M1381.2 670.3h0M1380.1 683.6h0M1381.8 700.9h0M1381.6 717.3h0M1384.1 732.9h0M1383.8 746.6h0M1385 760.4h0M1385 778.8h0M1384.8 794.1h0M1385.9 809.8h0M1236.9 209h0M1255.9 222.5h0M1266.1 241.7h0M1284.3 253.9h0M1300.2 273.3h0M1321.1 289h0M1324.1 305.5h0M1327.5 318.9h0M1327.2 330.9h0M1329.4 348.4h0M1329.3 365.2h0M1334.3 379.3h0M1336 390.9h0M1343.8 409.8h0M1344.2 428.3h0M1347.3 444h0M1353.6 461.8h0M1358.9 477.5h0M1362.6 491h0M1364.5 506.1h0M1365.6 525.1h0M1368 540.4h0M1369.9 559.9h0M1373 576.2h0M1374.2 590.9h0M1373.5 608.5h0M1376.1 622.1h0M1376.4 636.9h0M1378.9 656.6h0M1379.6 669.4h0M1379.8 682.9h0M1380.2 700.4h0M1381.6 718.1h0M1382 735.7h0M1381.4 753.5h0M1382.9 771.3h0M1383.4 788.5h0M1384.3 806.6h0M1243.2 208.8h0M1256.1 225.5h0M1258 240h0M1275.5 256.1h0M1278.6 269.4h0M1284 287h0M1300.3 298.8h0M1309.9 311.7h0M1315.6 331.1h0M1328.5 347.6h0M1330.2 365.1h0M1332 381.3h0M1333.9 397.7h0M1342.2 413.3h0M1342 428.6h0M1342.8 443.3h0M1350.3 456.5h0M1358.6 472.7h0M1364.2 489.7h0M1368.4 505.6h0M1368.6 522.6h0M1370.7 554.8h0M1372.3 567.9h0M1375.3 586.2h0M1375.2 602.8h0M1375.6 618.7h0M1378.5 638.2h0M1379.2 654.7h0M1379.4 670.5h0M1380.9 685.2h0M1381 699.6h0M1382.7 712.4h0M1380.8 728.4h0M1382.8 740.7h0M1384.3 756h0M1384.1 772.8h0M1383.6 790.5h0M1386 804.8h0M1231.4 211.4h0M1248.8 230h0M1260.2 245.7h0M1279 262.7h0M1290.4 279.5h0M1309.1 294.4h0M1323 306.2h0M1330.8 323.3h0M1333.8 337.3h0M1342.2 349.6h0M1350.1 369.1h0M1350.3 385.7h0M1355.6 403.4h0M1356.6 417.9h0M1360.5 433.4h0M1363.8 447h0M1366.2 461h0M1368.2 476.5h0M1370.3 492.8h0M1371.1 512.3h0M1372.8 528.2h0M1375.1 546.3h0M1376.8 563.7h0M1376.1 582.9h0M1375.9 595.7h0M1379.1 609.5h0M1379.7 622.5h0M1380.6 639.8h0M1381.2 656.4h0M1382 673.7h0M1382 689.8h0M1381.9 702.4h0M1383.4 719.9h0M1382.4 736h0M1383 749.3h0M1384.4 764.9h0M1384.4 781.9h0M1383.6 799.5h0M1246.3 205.2h0M1268.5 224.7h0M1285.1 241.1h0M1287.3 257.3h0M1299 270.6h0M1303.8 286.9h0M1315.9 302.1h0M1324 320.5h0M1337.9 336h0M1336.6 355.5h0M1342.1 368.6h0M1346.2 381.9h0M1351.8 399.6h0M1357 414h0M1355.5 426.7h0M1364 452.8h0M1366 466.1h0M1368.1 479.5h0M1370 493.6h0M1372.4 511.3h0M1373.7 527.7h0M1373.9 541.7h0M1377.4 559.4h0M1378.8 574.2h0M1379.3 587.3h0M1380.2 606.7h0M1380.6 623.9h0M1381.8 639.7h0M1382.8 673.8h0M1382.6 686.4h0M1381.8 699.5h0M1383.2 714.6h0M1383 729.5h0M1385.3 746.1h0M1383.8 761.5h0M1384.8 776.4h0M1384.2 794.1h0M1386.4 807.3h0M1243.4 210.1h0M1264.9 227.6h0M1275.4 242.8h0M1297.6 262.3h0M1320.8 280.9h0M1325.8 298h0M1333 316.8h0M1332.7 331.2h0M1342.4 348.2h0M1344.2 363.5h0M1347.9 396.7h0M1349.1 415.4h0M1350.2 431h0M1353.7 449.4h0M1354.1 462.5h0M1361.6 476.9h0M1364.8 492.1h0M1367.8 519.9h0M1368.8 535.2h0M1372.4 552.8h0M1373.1 569.9h0M1374.3 584.5h0M1374.7 595.8h0M1376.1 628h0M1378 641h0M1379.1 656.5h0M1381.6 673.8h0M1381.2 692.9h0M1381.9 724.7h0M1383.5 739.7h0M1385.2 758.2h0M1385.2 773.2h0M1387.5 789.2h0M1387.9 801.6h0M1235.7 202.8h0M1245.2 217.3h0M1257.9 247.6h0M1261.3 265.7h0M1266.6 279.8h0M1278.3 297.8h0M1297.5 318h0M1315.5 331h0M1334.5 364h0M1339.6 381.2h0M1342.7 393.7h0M1345.9 411.2h0M1348.9 429.2h0M1350.7 442.5h0M1356.9 455.2h0M1362.1 471.1h0M1365.8 483.7h0M1367.8 499.3h0M1370.7 515.6h0M1371.2 532.9h0M1373.6 551.9h0M1376.8 563.3h0M1377.3 576.4h0M1377.8 591.2h0M1376.8 605.4h0M1378.9 639h0M1381.7 667.7h0M1381.6 685.7h0M1382.4 701.2h0M1384 719h0M1384.5 734.8h0M1385.5 750.9h0M1386.1 766.4h0M1385.9 786.7h0M1385 802.6h0M1248.3 218.6h0M1255.8 233.8h0M1254.4 249h0M1253.8 262.4h0M1264.8 277.8h0M1282.6 294.4h0M1293.3 309.7h0M1298 323.3h0M1311 337.6h0M1316.1 351.2h0M1320.8 365.7h0M1328.8 381.3h0M1331.3 397.3h0M1341.7 415h0M1345 429.8h0M1349.7 442.9h0M1356 462h0M1363.1 480.7h0M1365.3 499.3h0M1366.3 513.8h0M1369.1 530.4h0M1370.2 543h0M1372.3 558.9h0M1373.8 575.7h0M1375.2 592.7h0M1378.1 608.8h0M1377.2 623.1h0M1379.2 640.2h0M1380.1 658.9h0M1380.8 674.4h0M1380.6 689.5h0M1380.7 701.3h0M1382.3 717.4h0M1382.9 729.9h0M1383.5 743.3h0M1384.2 756.6h0M1383.5 774.6h0M1384.6 786.6h0M1384.5 802.4h0M1245.9 208h0M1271.4 224.8h0M1280.3 243.8h0M1297.8 257h0M1312.9 275h0M1329.6 288.1h0M1344.1 318.3h0M1345.8 331.9h0M1351.2 342.8h0M1353.9 360.6h0M1355.7 374.6h0M1356.4 389h0M1358.6 404.6h0M1360.4 424.5h0M1362.7 440.1h0M1365 452.9h0M1369.2 470.3h0M1371.3 487h0M1372 503.5h0M1373.3 520.2h0M1374.6 538.3h0M1376.7 552.2h0M1378.6 571.6h0M1377.7 585.7h0M1378.1 597.4h0M1378.6 612.4h0M1379.8 626.6h0M1381.5 639.4h0M1382 656.8h0M1381.8 674.4h0M1384 687.4h0M1385 703.5h0M1383.9 715.4h0M1386.4 732.2h0M1386.8 748.8h0M1385.9 764.1h0M1386.3 778.2h0M1389 793.6h0M1231.6 209h0M1246.7 223h0M1261.8 242.9h0M1274 256.4h0M1278.3 275.2h0M1297.3 290.7h0M1304 306.6h0M1320 320.1h0M1336.3 337.7h0M1338.1 351.4h0M1345.9 368h0M1346.4 381h0M1351.2 395.3h0M1356 407.2h0M1358.3 427.5h0M1358.2 440.4h0M1363.2 458.4h0M1368.6 472.5h0M1368.2 489.3h0M1372.9 502.8h0M1374.3 519.9h0M1374.4 534.4h0M1377.8 566.3h0M1378.4 582.2h0M1380.5 595.5h0M1379.4 608.2h0M1380.8 627.4h0M1381.4 643.3h0M1382.6 655.9h0M1383.1 670.4h0M1383.2 688.4h0M1384.5 704.2h0M1385.1 717.2h0M1385.9 731.2h0M1385.4 745.4h0M1385.9 762.1h0M1386.5 779.1h0M1387.8 797.3h0M1254 204.2h0M1262.8 217.8h0M1283.2 234.9h0M1290.2 249.6h0M1309.9 264.5h0M1332.1 283.6h0M1336.5 298.9h0M1344.1 316.6h0M1343.8 331.5h0M1350.2 347.6h0M1353.5 360.6h0M1354.8 377.5h0M1356 393h0M1359.2 405.7h0M1360.4 418.3h0M1362.4 433.3h0M1362.3 448.2h0M1368 464.2h0M1370.1 478.5h0M1371.9 495h0M1373.9 512.1h0M1374.1 532.4h0M1376.2 543.6h0M1378.1 560.9h0M1377.7 577.6h0M1380.5 594h0M1380.1 607.7h0M1381.6 619.5h0M1381.3 632.9h0M1381.4 650.4h0M1382.6 664.1h0M1382.6 679h0M1383.2 697.7h0M1384.4 708.7h0M1384.5 726.7h0M1386.7 739.2h0M1386.7 759.8h0M1386.8 775h0M1388 791.2h0M1388.6 810.2h0M1247.9 213h0M1260.3 228.4h0M1261.6 244.4h0M1271.5 256h0M1286.2 275.5h0M1294.9 289h0M1293.2 303.2h0M1311.1 318.4h0M1315.9 333.1h0M1323.6 349.3h0M1332.9 365.3h0M1340.9 379.9h0M1343.6 398.1h0M1349.7 413.1h0M1354.3 428.8h0M1357.2 444.8h0M1362.1 462.3h0M1363.1 478.4h0M1364.3 491.1h0M1365.1 506.2h0M1367.1 520.6h0M1368.8 537.6h0M1372.5 553h0M1372.8 571h0M1374.5 588.6h0M1377.2 606.6h0M1379.1 623.3h0M1379.3 639.5h0M1380.8 658.8h0M1380.4 676.1h0M1380.9 692.2h0M1381.7 709.8h0M1382.2 729h0M1383.9 746.2h0M1384.9 763h0M1385.2 774h0M1387 792.3h0M1240.6 203.5h0M1266.7 221.2h0M1291.1 238.6h0M1301.7 254.2h0M1308.1 268.7h0M1326.3 287.9h0M1324.5 307.1h0M1333.6 321.1h0M1334.8 335.6h0M1342 350.9h0M1346.1 367.5h0M1346.5 383.3h0M1346.8 396.1h0M1347.3 408.2h0M1353.1 425h0M1355.4 441.9h0M1359 456h0M1362.7 470.7h0M1365.3 487.9h0M1367.3 505.7h0M1369.8 520.1h0M1373 540.8h0M1373.8 556.6h0M1374 573.6h0M1375.5 592.6h0M1376.8 605.7h0M1378.1 621.5h0M1379.5 634.5h0M1378.4 648.5h0M1379.8 667.9h0M1381.7 682.7h0M1382.8 699.6h0M1383.2 718.6h0M1382.4 734.7h0M1384.6 747.7h0M1383.3 764.3h0M1385.1 777.2h0M1384.1 791.7h0M1386.7 803.5h0M1256.1 208.3h0M1278.7 225.2h0M1293.1 241.2h0M1308.7 257.1h0M1311.1 270h0M1319.7 286.6h0M1320.1 303.6h0M1325.6 320.5h0M1337.6 337.9h0M1346.7 368.9h0M1346.5 400.6h0M1349.1 418.3h0M1354 435.2h0M1358.3 452.1h0M1365.6 470.1h0M1366.9 487.3h0M1369.1 503.8h0M1372.5 521.7h0M1374.2 537.2h0M1376.9 554.6h0M1378.5 573.8h0M1379.8 586.5h0M1378.8 599.1h0M1380.9 613h0M1380.1 626.9h0M1380.6 642.7h0M1381.9 659.8h0M1383.6 677.3h0M1382 695.4h0M1382.9 712.1h0M1383.7 728.1h0M1385.7 744.6h0M1385.9 762.5h0M1388.1 779.1h0M1386.2 796.2h0M1387.2 810.4h0M1257.2 209.7h0M1275.6 228.8h0M1277.2 241.7h0M1288.8 258.9h0M1307 272h0M1325.9 286h0M1322.8 304.7h0M1330.6 319.2h0M1335.3 333.2h0M1343.1 350.1h0M1345.4 365.4h0M1346 380.7h0M1348.1 395.5h0M1354.3 413.7h0M1360 430.8h0M1362.9 444.3h0M1365.2 458.1h0M1367.7 472.1h0M1368.4 487.3h0M1372 499.8h0M1373.5 516.9h0M1374.1 530.6h0M1377 547.2h0M1378.3 565.9h0M1378.5 582.2h0M1379.9 600.8h0M1379.6 615.9h0M1381.5 632.3h0M1382.7 647.9h0M1382.6 665h0M1383.9 680.9h0M1383.5 694h0M1383.8 712.3h0M1386.2 727.6h0M1385.4 743.7h0M1386.9 759h0M1386.7 776.8h0M1387.3 794.6h0M1266.2 215.1h0M1289.1 234.2h0M1308.7 252.8h0M1316.3 266.9h0M1324.7 279.5h0M1331.8 295.7h0M1336.5 309.6h0M1340.6 323.5h0M1345.5 342.2h0M1351.9 359.2h0M1352.6 377.8h0M1354.6 391.1h0M1359 410.7h0M1360.6 425.7h0M1360.7 437.9h0M1363.8 457.1h0M1367.7 471.5h0M1370.3 490.9h0M1371.7 505.5h0M1373.3 523.2h0M1375.6 541.3h0M1377.5 571.9h0M1378.3 585.4h0M1380.3 602.1h0M1380.5 617.3h0M1380.3 634.4h0M1381.6 647.9h0M1382.9 660.2h0M1382.3 675.7h0M1383.2 694h0M1383.3 710.1h0M1384.8 726.3h0M1386.5 739.2h0M1385.9 755.8h0M1386.3 771.1h0M1388.3 790.7h0M1387.7 810h0M1255 202.7h0M1274.5 216.8h0M1285.6 229.6h0M1304.2 248.7h0M1323.9 266.3h0M1325.3 279.9h0M1333.9 298.7h0M1344 315.6h0M1344.4 331.2h0M1343 350.2h0M1347.5 367h0M1348.5 383h0M1353.5 401.4h0M1358.9 417.3h0M1361.7 436.4h0M1364.2 452.9h0M1366.5 468.4h0M1366.8 484.2h0M1368.1 500.6h0M1372.3 518.2h0M1371.4 531.7h0M1373.8 550h0M1374.1 563.6h0M1375.9 577.7h0M1378.5 604.3h0M1378.5 622h0M1381 638.5h0M1379.3 655h0M1380.8 671.6h0M1382.2 686.4h0M1383.3 700.4h0M1382.3 712.8h0M1383.5 726h0M1384.4 739.3h0M1384.5 756.5h0M1384.7 769.8h0M1385.7 783.8h0M1385.5 801.7h0M1247.7 211.5h0M1255.7 227.9h0M1277.5 242.3h0M1285 258.8h0M1290.4 277h0M1298.8 291.6h0M1306.4 309.2h0M1325.9 326.8h0M1333.3 339.8h0M1332.8 356.3h0M1338.4 370.4h0M1339.9 386.3h0M1346.7 401h0M1345.6 416.4h0M1354.1 430.2h0M1357.9 443.8h0M1361.2 459.8h0M1364.4 477h0M1366.4 492.7h0M1370.3 508.5h0M1372.3 524.2h0M1373.8 543.3h0M1374.6 560.3h0M1376.1 577.7h0M1379.6 594.3h0M1378.1 607.6h0M1380.3 626h0M1381.6 639.9h0M1382.8 674.2h0M1383.5 689.9h0M1382.9 705.4h0M1385 719h0M1383.7 734.8h0M1387.4 752.9h0M1386.8 770.1h0M1388 785.7h0M1259.1 206.4h0M1274.8 219.7h0M1293.3 234.7h0M1307.1 252.7h0M1314.9 267h0M1322.3 281.1h0M1327.5 296.1h0M1336.6 313.6h0M1341.5 327.6h0M1345.4 341.5h0M1349.6 359.6h0M1350.8 372.8h0M1353.9 389.3h0M1355.6 403.4h0M1358.9 418.6h0M1362 438h0M1365.5 454.8h0M1367.5 472.4h0M1369.2 486.7h0M1373.3 502.5h0M1374.1 520h0M1374 532.3h0M1375 548.4h0M1376.4 564.2h0M1378.1 576.9h0M1378.7 594.5h0M1380.2 608.4h0M1380.9 621.9h0M1381 633.6h0M1382 650.5h0M1382.2 664h0M1382.8 680.7h0M1384.5 696.7h0M1385 712.7h0M1386 729.2h0M1385.3 756.5h0M1386.9 771.2h0M1387.6 784.1h0M1388.9 797.5h0M1258.3 211.1h0M1283.6 226.6h0M1299.2 239.8h0M1315.1 257.2h0M1331.7 274.8h0M1333.2 290.1h0M1337.9 301.8h0M1337.5 316h0M1341.5 330.8h0M1344.6 344.7h0M1347.9 360.2h0M1352.5 373.6h0M1354.7 387.5h0M1357.2 404.7h0M1357.8 420.4h0M1362.8 437.1h0M1365.9 451.1h0M1367.5 469h0M1368.1 480.9h0M1373 508.5h0M1372.4 523.9h0M1374.2 539.4h0M1375.7 554.4h0M1377.3 585.8h0M1379.9 615.6h0M1379.2 631.1h0M1381.3 646h0M1381 659.2h0M1383.3 677.4h0M1384.2 694.4h0M1383.1 710.9h0M1384.6 722h0M1385.2 740.3h0M1386.8 754.4h0M1386.2 770.5h0M1386.5 787.2h0M1387.1 804.4h0M1270.4 218.3h0M1296 234.9h0M1305.1 248.3h0M1317.1 265.6h0M1330.5 278.7h0M1332.5 291h0M1337 306.2h0M1344.4 323h0M1349.7 342.3h0M1350.4 357.7h0M1348.5 374h0M1356.3 401.3h0M1359.8 416.9h0M1359.8 434.2h0M1364.6 452.1h0M1366.9 471.4h0M1371.3 500.4h0M1372.8 516.5h0M1375.7 551h0M1377.5 566.2h0M1377 583.4h0M1379.8 599.5h0M1379.6 613.9h0M1381.8 626.6h0M1382 644.8h0M1382 659.5h0M1382.8 673.5h0M1383.1 687.8h0M1385.2 704.9h0M1384.5 721.8h0M1385.1 738h0M1385.2 752.2h0M1386.1 766.5h0M1385.6 782.9h0M1387.4 795.1h0M1260.2 211.8h0M1273.4 227.3h0M1296 244.3h0M1305.8 260.1h0M1328 276.9h0M1328.5 291.2h0M1347.2 324.7h0M1349.5 341.8h0M1352.2 355.7h0M1351.6 373.5h0M1353.8 388.1h0M1354.9 414.9h0M1357.8 429.4h0M1361.1 446.1h0M1364.6 459.1h0M1367.3 474.6h0M1370.9 504.1h0M1373.2 516.8h0M1374.9 533.1h0M1376.3 547.5h0M1377.1 564.9h0M1378.8 582.3h0M1379.6 597h0M1378.8 611.5h0M1380.4 628.3h0M1380.4 641.9h0M1382.7 661.1h0M1383.1 676.3h0M1383.4 695.5h0M1384.6 708.5h0M1383.9 728.1h0M1385.8 744.9h0M1387.2 758.9h0M1387.4 770.9h0M1387.9 786.6h0M1387.6 802.7h0M1151 150h0M1152.5 91.3h0M1216 51h0" stroke="#00ffff" stroke-width="7.1" stroke-linecap="round" fill="none"/>
<path d="M1190.3 110.9L1282.8 294.2L1360.5 477.5L1380.5 660.8L1385.5 844.1" stroke="#0000ff" stroke-width="3.0" fill="none" stroke-linejoin="round"/>
<path d="M1190.3 110.9h0M1282.8 294.2h0M1360.5 477.5h0M1380.5 660.8h0" stroke="#0000ff" stroke-width="12.2" stroke-linecap="round" fill="none"/>
<path d="M1283.9 19.3L1285.4 56L1287.1 92.6L1288.8 129.3L1290.9 165.9L1292.7 202.6L1294.5 239.3L1297 294.2L1303 385.9L1317.9 477.5L1350.7 569.2L1359.2 660.8L1364.1 752.5" stroke="#ff0000" stroke-width="8.6" fill="none" stroke-linejoin="round"/>
<path d="M1283.9 19.3h0M1285.4 56h0M1287.1 92.6h0M1288.8 129.3h0M1290.9 165.9h0M1292.7 202.6h0M1294.5 239.3h0M1297 294.2h0M1303 385.9h0M1317.9 477.5h0M1350.7 569.2h0M1359.2 660.8h0M1364.1 752.5h0" stroke="#ff0000" stroke-width="12.2" stroke-linecap="round" fill="none"/>
<path d="M1273.3 19.3L1274.3 56L1276 92.6L1278.2 129.3L1280.3 165.9L1281.4 202.6L1283.3 239.3L1286.4 294.2L1293.4 385.9L1307.5 477.5L1359.2 569.2L1370.3 660.8L1377.3 752.5" stroke="#c98a14" stroke-width="3.2" fill="none" stroke-linejoin="round"/>
<path d="M1273.3 19.3L1274.3 56L1276 92.6L1278.2 129.3L1280.3 165.9L1281.4 202.6L1283.3 239.3L1286.4 294.2L1293.4 385.9L1307.5 477.5L1359.2 569.2L1370.3 660.8L1377.3 752.5" stroke="#ffa500" stroke-width="2" fill="none" stroke-linejoin="round"/>
<path d="M1273.3 19.3h0M1274.3 56h0M1276 92.6h0M1278.2 129.3h0M1280.3 165.9h0M1281.4 202.6h0M1283.3 239.3h0M1286.4 294.2h0M1293.4 385.9h0M1307.5 477.5h0M1359.2 569.2h0M1370.3 660.8h0M1377.3 752.5h0" stroke="#c98a14" stroke-width="12.6" stroke-linecap="round" fill="none"/>
<path d="M1273.3 19.3h0M1274.3 56h0M1276 92.6h0M1278.2 129.3h0M1280.3 165.9h0M1281.4 202.6h0M1283.3 239.3h0M1286.4 294.2h0M1293.4 385.9h0M1307.5 477.5h0M1359.2 569.2h0M1370.3 660.8h0M1377.3 752.5h0" stroke="#ffa500" stroke-width="11.2" stroke-linecap="round" fill="none"/>
<path d="M1201.6 19.3L1203.5 56L1204.5 92.6L1206 129.3L1207.5 165.9L1209.4 202.6L1211.5 239.3L1213.4 294.2L1228.3 385.9L1290.3 477.5L1317.4 569.2L1332.3 660.8L1344.4 752.5" stroke="#008000" stroke-width="3.0" fill="none" stroke-linejoin="round"/>
<path d="M1201.6 19.3h0M1203.5 56h0M1204.5 92.6h0M1206 129.3h0M1207.5 165.9h0M1209.4 202.6h0M1211.5 239.3h0M1213.4 294.2h0M1228.3 385.9h0M1290.3 477.5h0M1317.4 569.2h0M1332.3 660.8h0M1344.4 752.5h0" stroke="#008000" stroke-width="12.2" stroke-linecap="round" fill="none"/>
<path d="M1240.4 28.4L1241.2 47.5L1242.2 67.8L1243.2 89.3L1244.2 112.4L1245.3 137.4L1246.3 164.7L1247.2 194.8L1249.5 228.4L1250.4 266.2L1252.3 309.1L1256.3 358.3L1290.5 415.2L1331.4 481.4L1348.6 559L1369.4 650.5L1378.1 758.8" stroke="#ff00ff" stroke-width="3.0" fill="none" stroke-linejoin="round"/>
<path d="M1240.4 28.4h0M1241.2 47.5h0M1242.2 67.8h0M1243.2 89.3h0M1244.2 112.4h0M1245.3 137.4h0M1246.3 164.7h0M1247.2 194.8h0M1249.5 228.4h0M1250.4 266.2h0M1252.3 309.1h0M1256.3 358.3h0M1290.5 415.2h0M1331.4 481.4h0M1348.6 559h0M1369.4 650.5h0M1378.1 758.8h0" stroke="#ff00ff" stroke-width="12.2" stroke-linecap="round" fill="none"/>
</g>
<rect x="1070.6" y="19.3" width="399" height="784" fill="none" stroke="#000" stroke-width="1.33"/>
<path d="M1120.5 803.3v6M1202.3 803.3v6M1283.4 803.3v6M1364.5 803.3v6M1445.7 803.3v6M1070.6 19.3h-6M1070.6 110.9h-6M1070.6 202.6h-6M1070.6 294.2h-6M1070.6 385.9h-6M1070.6 477.5h-6M1070.6 569.2h-6M1070.6 660.8h-6M1070.6 752.5h-6" stroke="#000" stroke-width="1.33" fill="none"/>
<g transform="translate(1120 843.5) rotate(-45)">
<text x="0" y="6.2" font-size="17.6" text-anchor="middle" textLength="58.3" lengthAdjust="spacingAndGlyphs">1024.5</text>
</g>
<g transform="translate(1201.8 843.5) rotate(-45)">
<text x="0" y="6.2" font-size="17.6" text-anchor="middle" textLength="58.3" lengthAdjust="spacingAndGlyphs">1025.0</text>
</g>
<g transform="translate(1282.9 843.5) rotate(-45)">
<text x="0" y="6.2" font-size="17.6" text-anchor="middle" textLength="58.3" lengthAdjust="spacingAndGlyphs">1025.5</text>
</g>
<g transform="translate(1364 843.5) rotate(-45)">
<text x="0" y="6.2" font-size="17.6" text-anchor="middle" textLength="58.3" lengthAdjust="spacingAndGlyphs">1026.0</text>
</g>
<g transform="translate(1445.2 843.5) rotate(-45)">
<text x="0" y="6.2" font-size="17.6" text-anchor="middle" textLength="58.3" lengthAdjust="spacingAndGlyphs">1026.5</text>
</g>
<text x="167.4" y="860.2" font-size="23.3" font-weight="bold" textLength="181.2" lengthAdjust="spacingAndGlyphs">Temperature (</text>
<text x="350" y="852.4" font-size="17.5" font-style="italic" textLength="8.4" lengthAdjust="spacingAndGlyphs">o</text>
<text x="361" y="860.2" font-size="23.3" font-style="italic" textLength="16" lengthAdjust="spacingAndGlyphs">C</text>
<text x="378.2" y="860.2" font-size="23.3" font-weight="bold" textLength="7.2" lengthAdjust="spacingAndGlyphs">)</text>
<text x="772.6" y="860" font-size="23.3" font-weight="bold" text-anchor="middle" textLength="95" lengthAdjust="spacingAndGlyphs">Salinity</text>
<text x="1269.3" y="895.6" font-size="23.3" font-weight="bold" text-anchor="middle" textLength="214.5" lengthAdjust="spacingAndGlyphs">Density (kg m-3)</text>
<g transform="translate(28.9 412.5) rotate(-90)">
<text x="0" y="0" font-size="23.3" font-weight="bold" text-anchor="middle" textLength="127.2" lengthAdjust="spacingAndGlyphs">Depth (m)</text>
</g>
<text x="324.9" y="918.1" font-size="17.9" font-style="italic" textLength="55.4" lengthAdjust="spacingAndGlyphs">Ocean</text>
<text x="385.8" y="918.1" font-size="17.9" font-style="italic" textLength="41.1" lengthAdjust="spacingAndGlyphs">Heat</text>
<text x="432.1" y="918.1" font-size="17.9" font-style="italic" textLength="69" lengthAdjust="spacingAndGlyphs">Content</text>
<text x="507.1" y="918.1" font-size="17.9" font-style="italic" textLength="85.6" lengthAdjust="spacingAndGlyphs">(kJ/cm^2)</text>
<text x="599.2" y="918.1" font-size="17.9" font-style="italic" textLength="5.9" lengthAdjust="spacingAndGlyphs">-</text>
<text x="609.8" y="918.1" font-size="17.9" font-style="italic" textLength="58.5" lengthAdjust="spacingAndGlyphs">Glider:</text>
<text x="673.5" y="918.1" font-size="17.9" font-style="italic" textLength="35.6" lengthAdjust="spacingAndGlyphs">N/A,</text>
<text x="721" y="918.1" font-size="17.9" font-style="italic" textLength="63.6" lengthAdjust="spacingAndGlyphs">RTOFS:</text>
<text x="789.4" y="918.1" font-size="17.9" font-style="italic" textLength="36.9" lengthAdjust="spacingAndGlyphs">N/A,</text>
<text x="837.2" y="918.1" font-size="17.9" font-style="italic" textLength="57.2" lengthAdjust="spacingAndGlyphs">RTOFS</text>
<text x="900.8" y="918.1" font-size="17.9" font-style="italic" textLength="82.7" lengthAdjust="spacingAndGlyphs">(Parallel):</text>
<text x="989.5" y="918.1" font-size="17.9" font-style="italic" textLength="36.1" lengthAdjust="spacingAndGlyphs">N/A,</text>
<text x="1037" y="918.1" font-size="17.9" font-style="italic" textLength="50.5" lengthAdjust="spacingAndGlyphs">ESPC:</text>
<text x="1092.7" y="918.1" font-size="17.9" font-style="italic" textLength="36.4" lengthAdjust="spacingAndGlyphs">N/A,</text>
<text x="1140.5" y="918.1" font-size="17.9" font-style="italic" textLength="70.3" lengthAdjust="spacingAndGlyphs">CMEMS:</text>
<text x="1216.5" y="918.1" font-size="17.9" font-style="italic" textLength="35.7" lengthAdjust="spacingAndGlyphs">N/A,</text>
<defs><clipPath id="cm"><rect x="1567.9" y="245.3" width="399" height="331.1"/></clipPath></defs>
<rect x="1567.9" y="245.3" width="399" height="331.1" fill="#98b7e2"/>
<g clip-path="url(#cm)" fill="none" stroke-linejoin="round" stroke-linecap="round">
<path d="M1795.2 237.4L1792.9 246.5L1788.1 249.2L1783.8 250.4L1779.6 253.2L1775.3 254.7L1771.1 257.1L1766.8 253.9L1762.5 257.1L1760.6 260.2L1758.3 264.1L1756 268.8L1752.6 272.7L1749.8 277.8L1746.9 281.6L1744.1 287.4L1743.5 292.8L1745.5 296.7L1749.8 297.1L1749.2 300.6L1744.1 302.1L1741.2 305.2L1739 308.2L1737.3 311.3L1739.8 312.8L1744.1 313.2L1746.4 317L1748.1 322.8L1749.2 325.8L1751.2 329.6L1752.6 331.5L1756.9 333L1761.1 332.6L1765.4 331.1L1766.8 329.2L1766.2 325.8L1764.8 322.8L1762.5 320.9L1760.6 320.1L1761.1 319.3L1764 320.1L1766.2 322L1767.7 325.8L1768.8 331.1L1768.8 334.9L1767.4 338.7L1765.4 335.7L1759.7 336.8L1754 338L1749.2 340.2L1747.8 341L1748.6 337.2L1749.2 332.6L1746.4 333.4L1744.1 336.8L1740.7 339.1L1737 341.7L1733.3 342.9L1732.7 338L1731.3 334.2L1728.5 331.1L1727 333.4L1727.6 338L1726.2 341.7L1724.8 346.6L1718.5 348.2L1714 348.9L1707.2 349.3L1698.6 350.4L1690.1 350.8L1684.4 350.8L1678.8 354.2L1673.1 356.8L1667.4 359.4L1663.1 361.7L1659.4 365.4L1656 368.1L1654.6 369.6L1653.2 371.1L1652.3 372.5L1650.4 374L1647.5 376.3L1645.8 379.3L1647.5 381.1L1650.4 381.5L1653.2 382.2L1653.5 380.4L1654.1 383L1653.8 387.4L1652.6 393.4L1651.5 399.7L1650.6 405.9L1648.9 409.6L1646.1 414.4L1643.3 418.8L1640.4 421.7L1636.7 425.4L1633.3 430.1L1629.9 434.5L1626.2 437.1L1625.7 434.5L1627.6 429L1623.4 427.2L1619.1 424.7L1614.9 421.7L1610.6 417.3L1609.2 412.6L1610.6 408.1L1612.9 405.2L1609.2 408.1L1607.8 412.6L1608.6 418.1L1612 423.6L1614 430.1L1616.3 436.3L1619.7 440L1622.2 441.8L1623.1 449.1L1623.4 454.5L1622 459.9L1619.1 465.3L1616.3 471.4L1612.9 476.1L1609.2 483.3L1606.3 490.4L1602.1 495.7L1598.7 501.1L1597 502.9L1595.3 497.5L1596.4 490.4L1597.3 485L1599.2 479.7L1601.5 474.3L1597.8 471.8L1597 465.3L1593.6 461.7L1588.7 458.1L1586.7 450.9L1585.6 443.6L1587.3 436.3L1589.3 429L1593.6 421.7L1597.3 414.4L1594.1 415.5L1590.7 420.6L1585.6 424.7L1582.2 426.5L1583.6 432.7L1582.2 440L1581.6 449.1L1583.6 456.3L1585.6 461.7L1587 467.1L1579.4 463.5L1570.8 458.8L1566.6 456.3L1566.6 459.9L1573.7 463.5L1580.8 468.9L1587.9 473.6L1588.4 479.7L1586.5 484.3L1579.4 477.9L1570.8 470.7L1579.4 480.7L1587.9 486.8L1588.4 492.2L1585 495.7L1579.4 490.4L1573.7 486.8L1579.4 492.9L1585 498.6L1587 502.9L1587.9 506.4L1583.6 504.6L1577.9 499.3L1569.4 496.5L1577.9 502.9L1583.6 508.2L1587.9 508.9L1593.6 509.2L1596.4 508.9L1597.3 515.3L1599.2 522.3L1601.5 531.1L1603.5 536.4L1607.2 545.1L1610 552.1L1611.5 559.1L1610 567.4L1607.8 568.5L1603.5 569.8L1596.4 574L1590.7 578.1L1559.5 579.9L1559.5 233.5Z" fill="#d2b48c" stroke="#000" stroke-width="1.9"/>
<path d="M1795.2 237.4L1792.9 246.5L1788.1 249.2L1783.8 250.4L1779.6 253.2L1775.3 254.7L1771.1 257.1L1766.8 253.9L1762.5 257.1L1760.6 260.2L1758.3 264.1L1756 268.8L1752.6 272.7L1749.8 277.8L1746.9 281.6L1744.1 287.4L1743.5 292.8L1745.5 296.7L1749.8 297.1L1749.2 300.6L1744.1 302.1L1741.2 305.2L1739 308.2L1737.3 311.3L1739.8 312.8L1744.1 313.2L1746.4 317L1748.1 322.8L1749.2 325.8L1751.2 329.6L1752.6 331.5L1756.9 333L1761.1 332.6L1765.4 331.1L1766.8 329.2L1766.2 325.8L1764.8 322.8L1762.5 320.9L1760.6 320.1L1761.1 319.3L1764 320.1L1766.2 322L1767.7 325.8L1768.8 331.1L1768.8 334.9L1767.4 338.7L1765.4 335.7L1759.7 336.8L1754 338L1749.2 340.2L1747.8 341L1748.6 337.2L1749.2 332.6L1746.4 333.4L1744.1 336.8L1740.7 339.1L1737 341.7L1733.3 342.9L1732.7 338L1731.3 334.2L1728.5 331.1L1727 333.4L1727.6 338L1726.2 341.7L1724.8 346.6L1718.5 348.2L1714 348.9L1707.2 349.3L1698.6 350.4L1690.1 350.8L1684.4 350.8L1678.8 354.2L1673.1 356.8L1667.4 359.4L1663.1 361.7L1659.4 365.4L1656 368.1L1654.6 369.6L1653.2 371.1L1652.3 372.5L1650.4 374L1647.5 376.3L1645.8 379.3L1647.5 381.1L1650.4 381.5L1653.2 382.2L1653.5 380.4L1654.1 383L1653.8 387.4L1652.6 393.4L1651.5 399.7L1650.6 405.9L1648.9 409.6L1646.1 414.4L1643.3 418.8L1640.4 421.7L1636.7 425.4L1633.3 430.1L1629.9 434.5L1626.2 437.1L1625.7 434.5L1627.6 429L1623.4 427.2L1619.1 424.7L1614.9 421.7L1610.6 417.3L1609.2 412.6L1610.6 408.1L1612.9 405.2L1609.2 408.1L1607.8 412.6L1608.6 418.1L1612 423.6L1614 430.1L1616.3 436.3L1619.7 440L1622.2 441.8L1623.1 449.1L1623.4 454.5L1622 459.9L1619.1 465.3L1616.3 471.4L1612.9 476.1L1609.2 483.3L1606.3 490.4L1602.1 495.7L1598.7 501.1L1597 502.9L1595.3 497.5L1596.4 490.4L1597.3 485L1599.2 479.7L1601.5 474.3L1597.8 471.8L1597 465.3L1593.6 461.7L1588.7 458.1L1586.7 450.9L1585.6 443.6L1587.3 436.3L1589.3 429L1593.6 421.7L1597.3 414.4L1594.1 415.5L1590.7 420.6L1585.6 424.7L1582.2 426.5L1583.6 432.7L1582.2 440L1581.6 449.1L1583.6 456.3L1585.6 461.7L1587 467.1L1579.4 463.5L1570.8 458.8L1566.6 456.3L1566.6 459.9L1573.7 463.5L1580.8 468.9L1587.9 473.6L1588.4 479.7L1586.5 484.3L1579.4 477.9L1570.8 470.7L1579.4 480.7L1587.9 486.8L1588.4 492.2L1585 495.7L1579.4 490.4L1573.7 486.8L1579.4 492.9L1585 498.6L1587 502.9L1587.9 506.4L1583.6 504.6L1577.9 499.3L1569.4 496.5L1577.9 502.9L1583.6 508.2L1587.9 508.9L1593.6 509.2L1596.4 508.9L1597.3 515.3L1599.2 522.3L1601.5 531.1L1603.5 536.4L1607.2 545.1L1610 552.1L1611.5 559.1L1610 567.4L1607.8 568.5L1603.5 569.8L1596.4 574L1590.7 578.1" stroke="#000" stroke-width="3" stroke-dasharray="1.6 2.6" stroke-linecap="butt"/>
<path d="M1609.2 566.7L1610 559.1L1608.9 552.1L1606.1 545.1L1602.6 537.4L1600.4 531.1L1598.4 524.1L1597 524.1L1597.8 531.1L1599.2 536.4L1596.4 538.1L1587.9 538.1L1576.5 539.9L1576 543.4L1585 543.4L1595 543.4L1599.2 543.4L1603.5 546.9L1604.1 553.9L1600.7 557.3L1596.4 560.8L1587.9 562.6L1579.4 560.8L1570.8 559.1L1566.6 559.1L1566.6 562.6L1579.4 565L1582.2 569.5L1576.5 574.7L1568 573L1568 578.1L1585 578.1L1593.6 574.7L1602.1 569.5Z" fill="#98b7e2" stroke="#000" stroke-width="1.9"/>
<path d="M1609.2 566.7L1610 559.1L1608.9 552.1L1606.1 545.1L1602.6 537.4L1600.4 531.1L1598.4 524.1L1597 524.1L1597.8 531.1L1599.2 536.4L1596.4 538.1L1587.9 538.1L1576.5 539.9L1576 543.4L1585 543.4L1595 543.4L1599.2 543.4L1603.5 546.9L1604.1 553.9L1600.7 557.3L1596.4 560.8L1587.9 562.6L1579.4 560.8L1570.8 559.1L1566.6 559.1L1566.6 562.6L1579.4 565L1582.2 569.5L1576.5 574.7L1568 573L1568 578.1L1585 578.1L1593.6 574.7L1602.1 569.5Z" stroke="#000" stroke-width="3" stroke-dasharray="1.6 2.6" stroke-linecap="butt"/>
<path d="M1652.1 375.5L1655.2 368.8L1660.3 366.9L1666 364.3L1673.1 363.6L1678.8 362.1L1687.3 361.7L1694.4 359.8L1700.1 356.1L1702.9 354.6L1701.5 357.6L1695.8 361.3L1693 363.6L1698.6 362.4L1704.3 359.8L1710 358.7L1714 357.9L1710 360.6L1701.5 365.1L1693 368.1L1684.4 371.1L1675.9 374L1667.4 375.9L1658.9 376.3L1653.2 376.7Z" fill="#d2b48c" stroke="#000" stroke-width="1.9"/>
<path d="M1652.1 375.5L1655.2 368.8L1660.3 366.9L1666 364.3L1673.1 363.6L1678.8 362.1L1687.3 361.7L1694.4 359.8L1700.1 356.1L1702.9 354.6L1701.5 357.6L1695.8 361.3L1693 363.6L1698.6 362.4L1704.3 359.8L1710 358.7L1714 357.9L1710 360.6L1701.5 365.1L1693 368.1L1684.4 371.1L1675.9 374L1667.4 375.9L1658.9 376.3L1653.2 376.7Z" stroke="#000" stroke-width="2.8" stroke-dasharray="1.6 2.6" stroke-linecap="butt"/>
<path d="M1743.2 347.4L1746.9 344.4L1750.3 342.9L1753.5 345.5L1754 347.4L1746.9 347.8Z" fill="#d2b48c" stroke="#000" stroke-width="1.9"/>
<path d="M1743.2 347.4L1746.9 344.4L1750.3 342.9L1753.5 345.5L1754 347.4L1746.9 347.8Z" stroke="#000" stroke-width="2.8" stroke-dasharray="1.6 2.6" stroke-linecap="butt"/>
<path d="M1759.7 349.3L1764 348.2L1766.8 346.3L1767.7 350.4L1764 351.5L1759.7 350.8Z" fill="#d2b48c" stroke="#000" stroke-width="1.9"/>
<path d="M1759.7 349.3L1764 348.2L1766.8 346.3L1767.7 350.4L1764 351.5L1759.7 350.8Z" stroke="#000" stroke-width="2.8" stroke-dasharray="1.6 2.6" stroke-linecap="butt"/>
<path d="M1721.4 353.1L1722.8 352.3L1722.5 354.9L1721.4 354.9Z" fill="#d2b48c" stroke="#000" stroke-width="1.9"/>
<path d="M1721.4 353.1L1722.8 352.3L1722.5 354.9L1721.4 354.9Z" stroke="#000" stroke-width="2.8" stroke-dasharray="1.6 2.6" stroke-linecap="butt"/>
<path d="M1873.5 241.7L1875.2 251.9L1877.5 258L1880.9 255.8L1883.7 258L1887 264.5L1890.6 268.5L1894.9 264.5L1899.4 261.1L1904.1 257.7L1909.5 254.3L1915.1 249.1L1918.5 241.7Z" fill="#d2b48c" stroke="#000" stroke-width="2.2"/>
<path d="M1875.2 251.9L1877.5 258L1880.9 255.8L1883.7 258L1887 264.5L1890.6 268.5L1894.9 264.5L1899.4 261.1L1904.1 257.7L1909.5 254.3L1915.1 249.1" stroke="#000" stroke-width="4.2" stroke-dasharray="2 1.8" stroke-linecap="butt"/>
<path d="M1876.9 251.9L1879.2 257.5L1883.7 259.2L1887 265.4L1891 267.6L1896.6 263.1L1905 258" stroke="#000" stroke-width="3"/>
<path d="M1879.7 265.2h0M1879.2 268.3h0M1791.5 249.2h0M1797.5 250.6h0M1800.5 249h0" stroke="#000" stroke-width="2.6"/>
<path d="M1567 244L1592.7 244L1589.1 252.1L1589.7 260.6L1581.8 265.5L1575.8 270.3L1567 272.7Z" fill="#b3b3b3"/>
<path d="M1567.9 259.4L1573.3 258.2L1580.6 247.3" stroke="#000" stroke-width="1.2" stroke-dasharray="5 2"/>
<path d="M1653.4 355L1653.4 349.1L1654 324.9L1658.2 307.9L1660.7 292.1L1664.3 276.4L1663.1 272.1L1657 272.7L1656.4 264.3L1652.2 253.3L1647.3 249.7L1651 244.9" stroke="#98b7e2" stroke-width="1.8"/>
<path d="M1660.7 292.1L1647.3 285.5L1637.6 286.7L1625.5 282.4L1612.1 275.8L1610.9 266.1" stroke="#98b7e2" stroke-width="1.8"/>
<path d="M1719.5 245.5L1718.9 261.8L1723.7 276.4L1725.5 290.9L1727.4 297L1731 297L1740.7 290.9" stroke="#98b7e2" stroke-width="1.8"/>
<path d="M1695.8 294.6L1692.2 307.9L1691.6 324.9L1691 337L1698.2 346.1" stroke="#98b7e2" stroke-width="1.8"/>
<path d="M1627.3 291.5L1625.5 300.6L1608.5 311.5L1606.7 320" stroke="#98b7e2" stroke-width="1.8"/>
<path d="M1635.2 306.7L1625.5 312.8L1612.1 320" stroke="#98b7e2" stroke-width="1.8"/>
<path d="M1581.8 320.6L1590 318.5L1596.4 317.6L1602 320L1606.7 323.7" stroke="#98b7e2" stroke-width="1.8"/>
<path d="M1581.8 323.7L1583 329.7L1594 337L1601.2 345.5L1602.4 346.1L1600 350.9L1591.5 357L1578.2 363L1572.1 367.9L1569.1 380L1572.1 388.5L1581.8 397L1590.3 407.9L1595.2 414" stroke="#98b7e2" stroke-width="1.8"/>
<path d="M1581.8 266.1L1588.5 277.6L1577 281.2L1569.7 288.5L1568.5 297" stroke="#98b7e2" stroke-width="1.8"/>
<path d="M1567 362L1573 364" stroke="#98b7e2" stroke-width="1.8"/>
<path d="M1577 295L1582 305" stroke="#98b7e2" stroke-width="1.8"/>
<path d="M1583 291L1587 297" stroke="#98b7e2" stroke-width="1.8"/>
<path d="M1567 322.8L1614 322.8L1620 327.5L1623 333L1624.5 340L1631.6 347.3" stroke="#000" stroke-width="1.2"/>
<path d="M1631.6 347.3L1655.2 360" stroke="#000" stroke-width="1.2"/>
<path d="M1631.6 347.3L1623.1 358.2L1620 364.3L1618.8 372.7L1621.8 378.8L1627.9 386.1L1632.8 391.5L1627.9 395.2L1622.5 398.2" stroke="#000" stroke-width="1.2"/>
<path d="M1567 407.3L1602.4 407.3L1603.5 404.2L1607 402.6L1611.5 403.2" stroke="#000" stroke-width="1.2"/>
<path d="M1602.4 407.3L1604.9 453.3L1623.5 453.3" stroke="#000" stroke-width="1.2"/>
<path d="M1608 469.2L1616 470.5" stroke="#000" stroke-width="1.2"/>
<path d="M1567 522.5L1598.5 522.5" stroke="#000" stroke-width="1.2"/>
<path d="M1669.1 244.9L1669.8 255L1670.4 260.6L1673.6 263L1674 292.8L1666.7 319.4L1665.5 352.8L1666.7 352.1L1660.7 355.8L1662.5 358.2" stroke="#000" stroke-width="1.2"/>
<path d="M1706.7 244.9L1699.5 261.8L1697 276.4L1693.4 288.5L1695.8 293.4" stroke="#000" stroke-width="1.2"/>
<path d="M1674 292.8L1729.8 295.2L1734.6 290.9L1741.9 288.5" stroke="#000" stroke-width="1.2"/>
<path d="M1737.7 244.9L1738.9 267.9L1741.9 275.2L1745.5 280.6" stroke="#000" stroke-width="1.2"/>
<path d="M1666.7 319.4L1687.3 321.3L1715.2 322.2L1727.4 322.5L1728 324.9L1729.8 332.2" stroke="#000" stroke-width="1.2"/>
<path d="M1715.2 322.2L1715.2 345.5" stroke="#000" stroke-width="1.2"/>
<path d="M1792.9 246.9L1783.8 250.4L1775.3 253.6L1768.2 255.5L1762.5 257.9" stroke="#000" stroke-width="4.6"/>
<path d="M1786.7 246.5L1772.5 251.6" stroke="#000" stroke-width="3.4"/>
<path d="M1729.9 332.3L1729 338L1727.6 341.7" stroke="#000" stroke-width="4.2"/>
<path d="M1739.8 339.8L1746.9 334.9" stroke="#000" stroke-width="2.4"/>
<path d="M1586.2 436.3L1585 449.1L1587 458.1" stroke="#000" stroke-width="2.8"/>
<path d="M1590.7 443.6L1593 454.5L1596.4 463.5L1599.2 470.7" stroke="#000" stroke-width="4.2"/>
<path d="M1592.1 436.3L1590.7 445.4" stroke="#000" stroke-width="3.2"/>
<path d="M1598.7 472.5L1602.1 476.1L1599.2 481.5" stroke="#000" stroke-width="3.0"/>
<path d="M1614 473.2L1610.6 479.7L1607.2 486.8L1603.5 492.9L1599.2 499.3" stroke="#000" stroke-width="2.2"/>
<path d="M1596.4 486.8L1595.8 495.7" stroke="#000" stroke-width="2.6"/>
<path d="M1595 522.3L1595.8 529.4" stroke="#000" stroke-width="2.2"/>
<path d="M1590.7 524.1L1591.3 531.1" stroke="#000" stroke-width="2.2"/>
<path d="M1586.5 525.8L1587 532.9" stroke="#000" stroke-width="2.2"/>
<path d="M1582.2 529.4L1582.2 534.6" stroke="#000" stroke-width="2.2"/>
<path d="M1592.1 543.4L1592.1 550.4" stroke="#000" stroke-width="2.6"/>
<path d="M1579.4 555.6L1585 557.3L1590.7 560.8" stroke="#000" stroke-width="2.6"/>
<path d="M1570.8 562.6L1579.4 567.8" stroke="#000" stroke-width="2.4"/>
<path d="M1583.6 430.9L1585 425.4" stroke="#000" stroke-width="2.5"/>
<path d="M1587.9 474.3L1587.3 485L1586.5 495.7" stroke="#000" stroke-width="2.4"/>
<path d="M1603.5 485L1599.2 495.7" stroke="#000" stroke-width="2.6"/>
<path d="M1596.4 520.5L1600.7 532.9" stroke="#000" stroke-width="2.4"/>
<path d="M1749.2 338.7L1758.3 336.8" stroke="#000" stroke-width="2.0"/>
<path d="M1644.7 416.2L1633.3 430.9" stroke="#000" stroke-width="2.4"/>
<path d="M1666 396.6L1667.5 397.2L1671.3 402.3" stroke="#000" stroke-width="6.4"/>
<circle cx="1671.3" cy="402.3" r="3" fill="#ff0000" stroke="#000" stroke-width="1.2"/>
</g>
<rect x="1567.9" y="245.3" width="399" height="331.1" fill="none" stroke="#000" stroke-width="1.6"/>
<path d="M1596.4 245.3v-9M1596.4 576.4v9M1653.2 245.3v-9M1653.2 576.4v9M1710 245.3v-9M1710 576.4v9M1766.8 245.3v-9M1766.8 576.4v9M1823.6 245.3v-9M1823.6 576.4v9M1880.4 245.3v-9M1880.4 576.4v9M1937.2 245.3v-9M1937.2 576.4v9M1567.9 245.3h-9M1966.9 245.3h9M1567.9 322.8h-9M1966.9 322.8h9M1567.9 397.8h-9M1966.9 397.8h9M1567.9 470.7h-9M1966.9 470.7h9M1567.9 541.6h-9M1966.9 541.6h9" stroke="#000" stroke-width="3.4" fill="none"/>
<path d="M1568 245.3v-3.5M1568 576.4v3.5M1582.2 245.3v-3.5M1582.2 576.4v3.5M1610.6 245.3v-3.5M1610.6 576.4v3.5M1624.8 245.3v-3.5M1624.8 576.4v3.5M1639 245.3v-3.5M1639 576.4v3.5M1667.4 245.3v-3.5M1667.4 576.4v3.5M1681.6 245.3v-3.5M1681.6 576.4v3.5M1695.8 245.3v-3.5M1695.8 576.4v3.5M1724.2 245.3v-3.5M1724.2 576.4v3.5M1738.4 245.3v-3.5M1738.4 576.4v3.5M1752.6 245.3v-3.5M1752.6 576.4v3.5M1781 245.3v-3.5M1781 576.4v3.5M1795.2 245.3v-3.5M1795.2 576.4v3.5M1809.4 245.3v-3.5M1809.4 576.4v3.5M1837.8 245.3v-3.5M1837.8 576.4v3.5M1852 245.3v-3.5M1852 576.4v3.5M1866.2 245.3v-3.5M1866.2 576.4v3.5M1894.6 245.3v-3.5M1894.6 576.4v3.5M1908.8 245.3v-3.5M1908.8 576.4v3.5M1923 245.3v-3.5M1923 576.4v3.5M1951.4 245.3v-3.5M1951.4 576.4v3.5M1965.6 245.3v-3.5M1965.6 576.4v3.5M1567.9 576.4h-3.5M1966.9 576.4h3.5M1567.9 559.1h-3.5M1966.9 559.1h3.5M1567.9 524.1h-3.5M1966.9 524.1h3.5M1567.9 506.4h-3.5M1966.9 506.4h3.5M1567.9 488.6h-3.5M1966.9 488.6h3.5M1567.9 452.7h-3.5M1966.9 452.7h3.5M1567.9 434.5h-3.5M1966.9 434.5h3.5M1567.9 416.2h-3.5M1966.9 416.2h3.5M1567.9 379.3h-3.5M1966.9 379.3h3.5M1567.9 360.6h-3.5M1966.9 360.6h3.5M1567.9 341.7h-3.5M1966.9 341.7h3.5M1567.9 303.6h-3.5M1966.9 303.6h3.5M1567.9 284.3h-3.5M1966.9 284.3h3.5M1567.9 264.9h-3.5M1966.9 264.9h3.5" stroke="#000" stroke-width="1.9" fill="none"/>
<text x="1552.6" y="253.6" font-size="22.8" text-anchor="end" textLength="54.5" lengthAdjust="spacingAndGlyphs">44°N</text>
<text x="1552.6" y="331.1" font-size="22.8" text-anchor="end" textLength="54.5" lengthAdjust="spacingAndGlyphs">42°N</text>
<text x="1552.6" y="406.1" font-size="22.8" text-anchor="end" textLength="54.5" lengthAdjust="spacingAndGlyphs">40°N</text>
<text x="1552.6" y="479" font-size="22.8" text-anchor="end" textLength="54.5" lengthAdjust="spacingAndGlyphs">38°N</text>
<text x="1552.6" y="549.9" font-size="22.8" text-anchor="end" textLength="54.5" lengthAdjust="spacingAndGlyphs">36°N</text>
<g transform="translate(1594.2 622.3) rotate(-45)">
<text x="0" y="8.2" font-size="22.8" text-anchor="middle" textLength="62.5" lengthAdjust="spacingAndGlyphs">76°W</text>
</g>
<g transform="translate(1651 622.3) rotate(-45)">
<text x="0" y="8.2" font-size="22.8" text-anchor="middle" textLength="62.5" lengthAdjust="spacingAndGlyphs">74°W</text>
</g>
<g transform="translate(1707.8 622.3) rotate(-45)">
<text x="0" y="8.2" font-size="22.8" text-anchor="middle" textLength="62.5" lengthAdjust="spacingAndGlyphs">72°W</text>
</g>
<g transform="translate(1764.6 622.3) rotate(-45)">
<text x="0" y="8.2" font-size="22.8" text-anchor="middle" textLength="62.5" lengthAdjust="spacingAndGlyphs">70°W</text>
</g>
<g transform="translate(1821.4 622.3) rotate(-45)">
<text x="0" y="8.2" font-size="22.8" text-anchor="middle" textLength="62.5" lengthAdjust="spacingAndGlyphs">68°W</text>
</g>
<g transform="translate(1878.2 622.3) rotate(-45)">
<text x="0" y="8.2" font-size="22.8" text-anchor="middle" textLength="62.5" lengthAdjust="spacingAndGlyphs">66°W</text>
</g>
<g transform="translate(1935 622.3) rotate(-45)">
<text x="0" y="8.2" font-size="22.8" text-anchor="middle" textLength="62.5" lengthAdjust="spacingAndGlyphs">64°W</text>
</g>
<text x="1526.8" y="36.6" font-size="24.2" font-weight="bold" textLength="150.5" lengthAdjust="spacingAndGlyphs">Comparison</text>
<text x="1685.9" y="36.6" font-size="24.2" font-weight="bold" textLength="68.9" lengthAdjust="spacingAndGlyphs">Date:</text>
<text x="1762.8" y="36.6" font-size="24.2" font-weight="bold" textLength="143.2" lengthAdjust="spacingAndGlyphs">2025-04-27</text>
<text x="1526.8" y="89.9" font-size="24.2" font-weight="bold" textLength="85.6" lengthAdjust="spacingAndGlyphs">Glider:</text>
<text x="1620.5" y="89.9" font-size="24.2" font-weight="bold" textLength="58" lengthAdjust="spacingAndGlyphs">ru43</text>
<text x="1526.8" y="116.5" font-size="24.2" font-weight="bold" textLength="106.4" lengthAdjust="spacingAndGlyphs">Profiles:</text>
<text x="1641.3" y="116.5" font-size="24.2" font-weight="bold" textLength="31.1" lengthAdjust="spacingAndGlyphs">35</text>
<text x="1526.8" y="143.1" font-size="24.2" font-weight="bold" textLength="67" lengthAdjust="spacingAndGlyphs">First:</text>
<text x="1602.6" y="143.1" font-size="24.2" font-weight="bold" textLength="143" lengthAdjust="spacingAndGlyphs">2025-04-27</text>
<text x="1754.4" y="143.1" font-size="24.2" font-weight="bold" textLength="112.2" lengthAdjust="spacingAndGlyphs">00:06:46</text>
<text x="1526.8" y="169.7" font-size="24.2" font-weight="bold" textLength="62.1" lengthAdjust="spacingAndGlyphs">Last:</text>
<text x="1597.8" y="169.7" font-size="24.2" font-weight="bold" textLength="143" lengthAdjust="spacingAndGlyphs">2025-04-27</text>
<text x="1749.5" y="169.7" font-size="24.2" font-weight="bold" textLength="112.2" lengthAdjust="spacingAndGlyphs">22:23:17</text>
<text x="1526.8" y="196.3" font-size="24.2" font-weight="bold" textLength="105" lengthAdjust="spacingAndGlyphs">Method:</text>
<text x="1640.1" y="196.3" font-size="24.2" font-weight="bold" textLength="227.2" lengthAdjust="spacingAndGlyphs">Nearest-Neighbor</text>
<rect x="1635.8" y="631.3" width="261.3" height="177.4" rx="4" ry="4" fill="#fff" fill-opacity=".8" stroke="#ccc" stroke-width="1.5"/>
<path d="M1643.8 650.4H1692" stroke="#0000ff" stroke-width="2.7" fill="none"/>
<circle cx="1668" cy="650.4" r="6" fill="#0000ff"/>
<text x="1708.9" y="658.7" font-size="23.8" textLength="49.5" lengthAdjust="spacingAndGlyphs">ru43</text>
<path d="M1643.8 684.7H1692" stroke="#ff0000" stroke-width="2.7" fill="none"/>
<circle cx="1668" cy="684.7" r="6" fill="#ff0000"/>
<text x="1708.9" y="693" font-size="23.8" textLength="70.5" lengthAdjust="spacingAndGlyphs">RTOFS</text>
<path d="M1643.8 719H1692" stroke="#ffa500" stroke-width="2.7" fill="none"/>
<circle cx="1668" cy="719" r="6" fill="#ffa500"/>
<text x="1708.9" y="727.3" font-size="23.8" textLength="177.6" lengthAdjust="spacingAndGlyphs">RTOFS (Parallel)</text>
<path d="M1643.8 753.3H1692" stroke="#008000" stroke-width="2.7" fill="none"/>
<circle cx="1668" cy="753.3" r="6" fill="#008000"/>
<text x="1708.9" y="761.6" font-size="23.8" textLength="57.5" lengthAdjust="spacingAndGlyphs">ESPC</text>
<path d="M1643.8 787.6H1692" stroke="#ff00ff" stroke-width="2.7" fill="none"/>
<circle cx="1668" cy="787.6" r="6" fill="#ff00ff"/>
<text x="1708.9" y="795.9" font-size="23.8" textLength="82" lengthAdjust="spacingAndGlyphs">CMEMS</text>
</svg>
</body></html>
